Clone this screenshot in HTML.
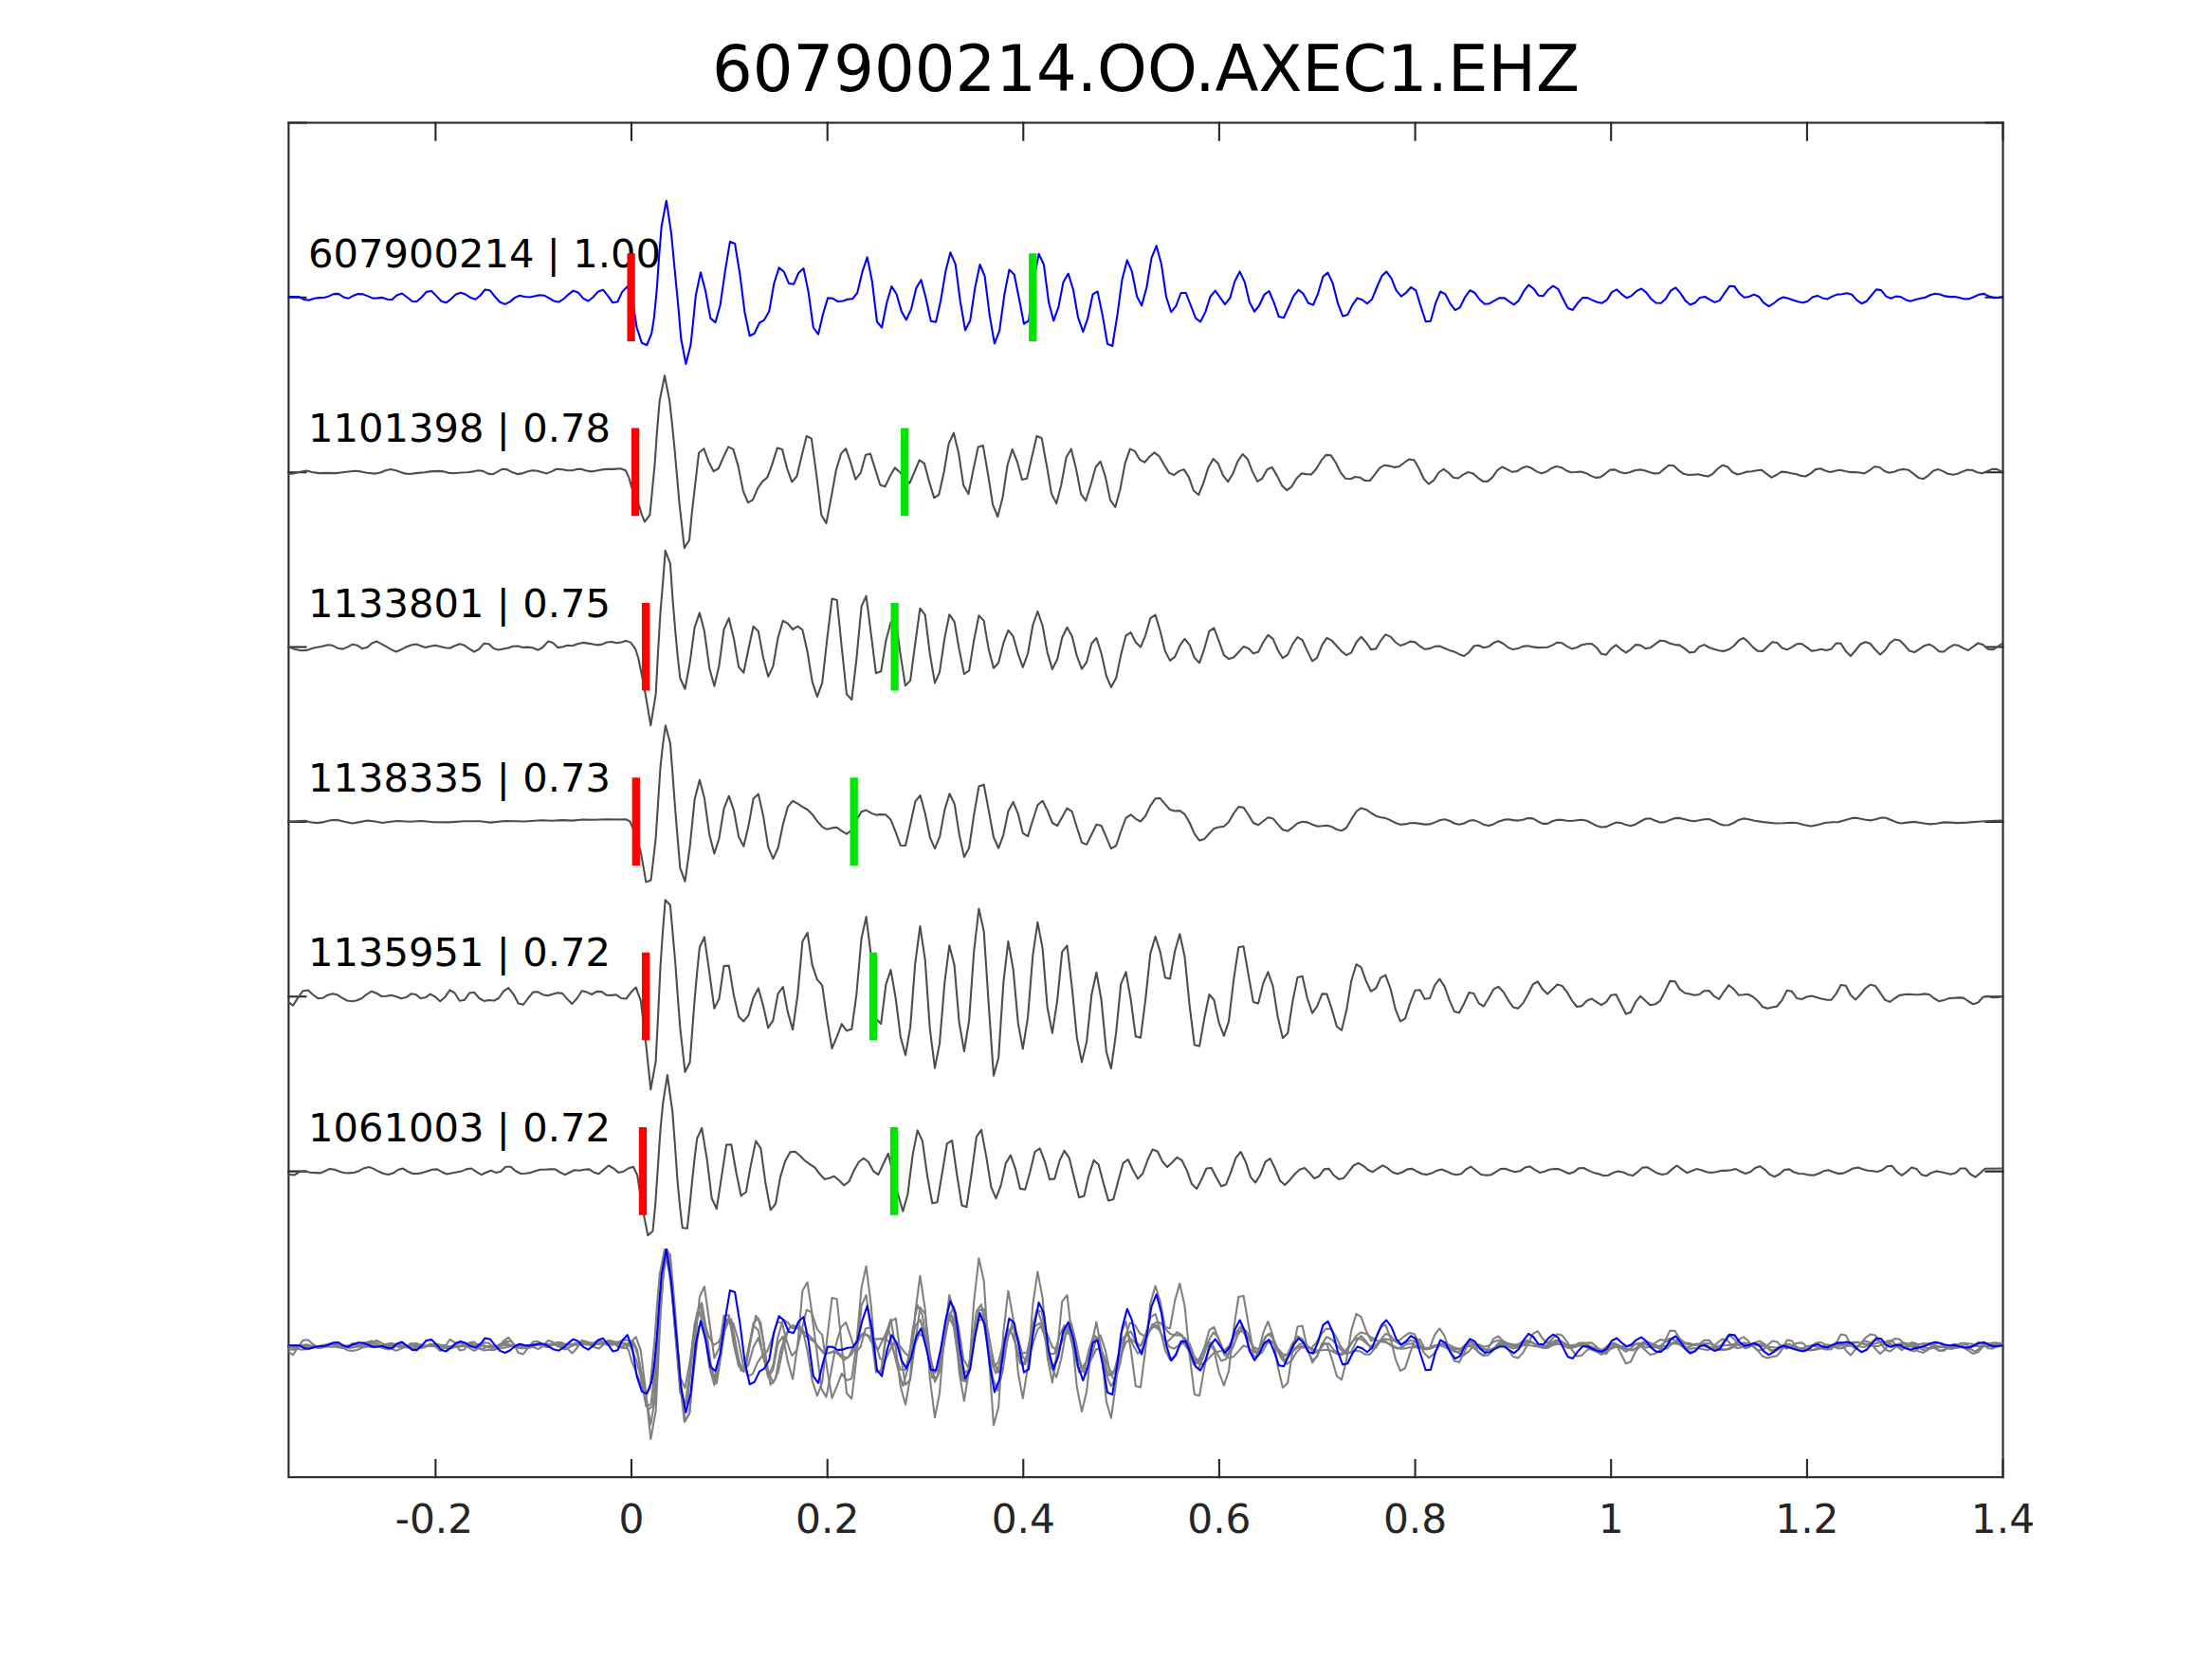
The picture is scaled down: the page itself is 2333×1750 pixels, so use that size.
<!DOCTYPE html><html><head><meta charset="utf-8"><title>607900214.OO.AXEC1.EHZ</title>
<style>html,body{margin:0;padding:0;background:#fff}svg{display:block}text{font-family:"DejaVu Sans","Liberation Sans",sans-serif}</style></head><body>
<svg width="2333" height="1750" viewBox="0 0 2333 1750">
<rect width="2333" height="1750" fill="#fff"/>
<defs><clipPath id="c"><rect x="304.4" y="129.5" width="1808.1" height="1428.7"/></clipPath></defs>
<g stroke="#262626" stroke-width="2.08" fill="none" stroke-linecap="square">
<rect x="304.4" y="129.5" width="1808.1" height="1428.7"/>
<path d="M459.4 1558.2v-18.1M459.4 129.5v18.1"/>
<path d="M666.0 1558.2v-18.1M666.0 129.5v18.1"/>
<path d="M872.7 1558.2v-18.1M872.7 129.5v18.1"/>
<path d="M1079.3 1558.2v-18.1M1079.3 129.5v18.1"/>
<path d="M1285.9 1558.2v-18.1M1285.9 129.5v18.1"/>
<path d="M1492.6 1558.2v-18.1M1492.6 129.5v18.1"/>
<path d="M1699.2 1558.2v-18.1M1699.2 129.5v18.1"/>
<path d="M1905.9 1558.2v-18.1M1905.9 129.5v18.1"/>
<path d="M2112.5 1558.2v-18.1M2112.5 129.5v18.1"/>
<path d="M304.4 129.5h18.1M2112.5 129.5h-18.1"/>
<path d="M304.4 313.8h18.1M2112.5 313.8h-18.1"/>
<path d="M304.4 498.2h18.1M2112.5 498.2h-18.1"/>
<path d="M304.4 682.5h18.1M2112.5 682.5h-18.1"/>
<path d="M304.4 866.9h18.1M2112.5 866.9h-18.1"/>
<path d="M304.4 1051.2h18.1M2112.5 1051.2h-18.1"/>
<path d="M304.4 1235.6h18.1M2112.5 1235.6h-18.1"/>
<path d="M304.4 1419.9h18.1M2112.5 1419.9h-18.1"/>
</g>
<g clip-path="url(#c)" fill="none" stroke-linejoin="round" stroke-width="2.08">
<polyline stroke="#0000ff" points="300.0,313.1 303.6,313.1 315.4,313.1 320.8,316.0 326.2,316.6 331.6,314.8 336.2,314.1 342.5,313.7 347.0,312.4 351.9,310.1 357.0,309.9 362.4,313.5 367.3,314.8 372.3,312.1 377.8,310.1 382.8,310.4 388.1,312.4 393.1,314.6 398.6,314.4 403.4,313.9 408.5,315.7 413.6,316.0 418.4,311.5 423.9,309.5 429.3,313.5 434.7,317.8 439.6,318.0 444.7,313.5 449.7,307.9 455.2,307.0 460.4,312.4 465.5,317.8 470.5,319.3 475.8,315.3 480.8,310.6 485.9,308.8 491.1,310.6 496.2,313.9 501.6,315.7 506.7,311.5 511.6,305.4 517.0,306.6 522.1,313.0 527.3,318.8 532.7,320.9 537.8,318.4 543.2,313.9 548.1,311.7 553.2,313.0 558.6,313.5 563.7,312.4 568.9,311.2 574.0,311.7 579.0,314.4 584.3,317.5 589.3,318.6 594.8,315.1 599.8,310.3 604.7,306.6 610.1,308.8 615.2,314.8 620.4,317.5 625.5,313.5 630.9,307.5 636.0,305.7 641.2,312.1 646.3,319.3 651.4,318.2 656.2,307.9 661.7,302.1 667.1,316.6 671.6,345.5 677.0,361.8 682.2,364.0 687.2,351.8 689.9,334.7 692.7,305.7 695.2,269.6 697.7,238.8 702.8,211.7 708.0,246.1 710.7,275.0 715.6,325.6 718.3,357.3 723.4,383.9 728.5,363.6 731.2,338.3 733.9,311.2 739.0,287.3 744.2,307.5 749.3,335.6 754.5,340.1 759.6,322.0 764.8,285.8 769.9,255.1 775.1,256.9 780.4,289.5 785.4,329.2 790.7,354.2 795.7,351.8 801.0,340.5 806.0,337.6 811.3,328.3 816.3,299.4 821.6,282.2 826.8,286.7 831.9,298.9 837.1,299.8 842.2,288.0 847.5,283.1 852.7,308.4 857.8,345.5 863.0,352.7 868.1,331.0 873.1,314.4 878.4,314.8 883.6,318.0 888.9,317.5 893.9,315.7 899.2,315.1 904.2,309.0 909.5,286.7 914.7,271.4 919.8,296.7 925.0,339.5 930.1,345.5 935.3,319.3 940.4,302.1 945.6,310.3 950.9,328.9 955.9,337.4 961.2,325.6 966.3,303.9 971.5,295.2 976.6,314.8 981.8,338.8 987.1,339.7 992.1,317.5 997.4,285.8 1002.4,266.3 1007.7,278.6 1012.7,317.5 1018.0,348.2 1023.2,338.3 1028.3,303.9 1033.5,279.0 1038.6,291.3 1043.8,332.9 1048.9,362.3 1054.1,349.1 1059.4,310.3 1064.4,284.6 1069.7,289.5 1074.8,314.8 1079.9,341.5 1085.0,338.3 1089.8,298.5 1095.6,267.8 1100.9,279.0 1106.1,318.8 1111.2,338.3 1116.4,323.8 1121.5,297.6 1126.7,288.6 1132.0,305.7 1137.0,334.7 1142.3,350.0 1147.3,335.6 1152.6,310.3 1157.6,307.5 1162.9,332.9 1168.0,362.7 1173.2,365.0 1178.4,332.9 1183.5,294.9 1188.8,274.6 1193.8,286.2 1199.1,312.6 1204.1,322.4 1209.4,303.0 1214.4,272.3 1219.7,259.3 1224.9,278.6 1230.0,313.0 1235.2,329.2 1240.3,322.9 1245.5,309.0 1250.8,309.0 1255.8,322.0 1261.1,335.6 1266.1,339.5 1271.4,328.9 1276.5,313.0 1281.7,306.6 1286.9,313.9 1292.0,321.1 1297.3,314.4 1302.3,296.7 1307.6,286.4 1312.8,297.6 1317.9,318.8 1323.1,328.7 1328.2,322.0 1333.4,310.8 1338.5,307.0 1343.7,319.3 1348.8,334.1 1354.0,335.2 1359.3,323.8 1364.3,312.4 1369.6,305.7 1374.6,309.9 1379.9,319.8 1385.1,321.6 1390.2,309.3 1395.4,291.8 1400.5,287.6 1405.8,299.4 1410.8,319.3 1416.1,333.4 1421.3,332.1 1426.4,321.6 1431.6,314.4 1436.7,316.2 1441.9,320.2 1447.0,315.7 1452.2,303.0 1457.3,291.3 1462.2,286.4 1467.5,293.6 1472.5,306.1 1477.8,312.6 1482.9,308.8 1488.1,303.0 1493.3,306.3 1498.4,322.9 1503.7,339.2 1508.9,338.8 1514.0,320.2 1519.2,307.5 1524.4,310.3 1529.5,320.2 1534.8,327.1 1539.8,324.4 1545.1,313.5 1550.3,306.3 1555.4,308.8 1560.6,316.0 1565.9,320.7 1570.9,320.2 1576.2,317.1 1581.2,314.4 1586.5,314.2 1591.5,317.8 1596.8,321.3 1601.8,317.1 1607.1,307.2 1612.2,300.7 1617.4,304.3 1622.6,311.7 1627.7,312.2 1632.9,305.7 1638.0,301.6 1643.3,304.8 1648.3,314.8 1653.6,325.1 1658.8,326.9 1663.9,319.8 1669.1,314.1 1674.2,314.1 1679.4,316.6 1684.7,318.8 1689.7,319.7 1695.0,316.2 1700.0,308.1 1705.3,305.4 1710.3,310.3 1715.6,314.2 1720.7,312.1 1725.9,307.2 1731.1,304.5 1736.2,308.4 1741.4,315.3 1746.5,319.5 1751.8,319.8 1756.8,315.3 1762.1,306.6 1767.3,303.4 1772.4,309.3 1777.6,317.1 1782.7,321.5 1787.9,319.3 1793.0,313.9 1798.2,313.0 1803.5,316.2 1808.5,318.9 1813.8,316.9 1818.8,309.3 1824.1,301.8 1829.3,302.1 1834.4,309.3 1839.6,313.7 1844.7,313.0 1849.9,310.6 1855.2,313.0 1860.2,319.3 1865.5,323.1 1870.5,320.2 1875.8,315.7 1880.8,313.5 1886.1,314.8 1891.1,316.6 1896.4,318.2 1901.6,319.3 1906.7,317.7 1911.9,313.3 1917.0,311.9 1922.2,314.4 1927.3,315.5 1932.5,312.6 1937.6,310.6 1942.9,310.3 1947.9,309.3 1953.2,310.8 1958.4,316.6 1963.5,320.2 1968.7,317.7 1973.8,311.5 1979.0,305.4 1984.1,306.1 1989.3,312.6 1994.4,314.8 1999.6,312.6 2004.7,313.1 2009.9,316.2 2015.0,317.7 2020.3,316.0 2025.5,314.8 2030.6,313.7 2035.8,311.2 2040.9,309.7 2046.1,310.6 2051.4,312.4 2056.4,313.1 2061.7,313.0 2066.7,314.1 2072.0,315.5 2077.2,315.1 2082.3,313.0 2087.5,310.6 2092.6,309.9 2097.8,312.6 2102.9,314.1 2108.1,313.7 2112.5,313.1"/>
<polyline stroke="#4d4d4d" points="303.6,499.8 308.1,499.8 315.4,498.0 323.5,496.5 328.9,498.0 336.2,499.1 344.3,498.9 354.2,499.1 363.3,498.0 375.0,496.7 380.5,497.4 386.8,498.7 395.8,499.6 401.3,498.5 406.7,496.2 412.1,495.1 417.5,496.2 426.6,499.4 432.0,500.0 441.0,498.9 448.3,498.3 453.7,497.4 462.7,496.9 468.2,497.4 473.6,498.9 479.0,499.2 486.3,498.5 493.5,498.3 498.9,497.4 504.3,496.3 509.4,496.9 514.6,499.6 519.7,500.3 525.1,497.4 530.2,494.7 535.1,495.4 540.5,498.3 545.6,500.1 550.5,499.4 555.9,497.6 561.3,496.3 565.8,496.5 571.2,498.1 576.7,499.4 581.7,497.4 587.0,494.7 592.0,495.1 598.4,496.3 603.8,496.2 608.3,494.9 612.8,494.7 618.3,496.5 623.7,497.4 629.1,496.5 634.5,495.4 640.0,494.9 647.2,494.9 654.4,494.3 659.9,496.2 663.5,504.3 666.2,514.2 674.3,534.1 677.0,543.2 680.0,550.4 685.4,543.2 690.5,490.7 693.0,454.6 695.7,422.9 701.0,396.3 706.2,422.9 708.9,447.3 711.6,474.5 716.5,530.5 721.8,578.1 727.0,569.8 729.7,541.4 737.1,477.7 742.4,473.2 747.6,487.5 752.7,497.2 757.9,494.0 763.2,481.7 768.2,471.4 773.3,473.9 778.6,491.6 783.8,517.9 788.9,530.2 793.9,527.4 799.2,515.1 804.2,507.9 809.5,503.4 814.7,488.9 819.8,472.6 825.0,474.1 830.1,494.0 835.2,508.3 840.4,502.5 845.6,480.8 850.7,460.0 855.9,462.7 861.0,499.8 866.3,543.2 871.5,551.9 876.6,525.1 881.8,496.2 887.1,478.4 892.1,473.2 897.4,488.6 902.4,505.7 907.7,498.9 912.9,479.9 918.0,478.6 923.2,495.3 928.3,511.5 933.5,513.3 938.8,502.1 943.8,493.4 949.1,498.0 954.3,505.2 959.4,509.7 964.4,498.0 969.7,485.3 974.9,488.9 980.0,507.9 985.2,525.1 990.3,521.8 995.6,498.0 1000.6,468.1 1005.9,456.7 1011.1,478.1 1016.2,512.1 1021.4,521.1 1026.5,495.8 1031.7,471.4 1036.8,469.9 1042.0,499.8 1047.1,532.3 1052.3,545.0 1057.6,524.2 1062.6,490.7 1067.7,473.9 1072.9,487.1 1078.0,506.1 1083.1,504.8 1088.4,481.7 1093.5,460.0 1098.7,462.3 1103.9,490.7 1109.0,520.6 1114.2,531.1 1119.3,511.5 1124.6,482.2 1129.8,473.7 1134.9,494.3 1140.1,521.1 1145.2,528.2 1150.4,511.5 1155.7,492.5 1160.7,486.8 1166.0,503.4 1171.0,527.4 1176.3,535.0 1181.5,516.0 1186.6,488.9 1191.8,473.6 1196.9,475.9 1202.1,484.8 1207.2,487.7 1212.4,481.7 1217.5,477.4 1222.7,481.3 1228.0,490.7 1233.1,498.9 1238.3,501.0 1243.4,497.1 1248.6,495.1 1253.9,503.4 1258.9,517.5 1264.2,522.0 1269.2,509.7 1274.5,492.9 1279.7,483.9 1284.8,488.9 1290.0,501.6 1295.1,508.1 1300.3,499.8 1305.4,486.6 1310.6,479.0 1315.9,484.4 1320.9,497.4 1326.2,507.9 1331.2,504.8 1336.5,495.3 1341.6,492.9 1346.8,501.6 1351.9,511.9 1357.1,517.1 1362.4,513.3 1367.4,504.7 1372.7,499.4 1377.7,500.1 1383.0,500.5 1388.2,494.7 1393.3,486.2 1398.5,479.9 1403.6,480.2 1408.8,488.0 1413.9,498.3 1419.1,504.8 1424.4,505.2 1429.4,503.0 1434.7,503.8 1439.7,507.0 1444.9,507.0 1450.1,500.3 1455.4,493.4 1460.4,490.7 1465.7,491.6 1470.7,492.9 1476.0,492.0 1481.0,488.0 1486.3,484.4 1491.5,485.3 1496.6,494.3 1501.8,505.2 1506.9,510.6 1512.2,506.6 1517.4,498.5 1522.5,494.9 1527.7,498.5 1532.8,503.8 1538.0,504.5 1543.3,500.7 1548.3,498.1 1553.6,499.4 1558.6,503.8 1563.9,507.7 1568.9,507.9 1574.2,503.4 1579.2,496.2 1584.5,492.5 1589.7,495.1 1594.8,497.8 1600.0,497.1 1605.1,493.8 1610.3,492.0 1615.4,493.8 1620.7,497.4 1625.7,499.4 1631.0,497.6 1636.2,494.0 1641.3,492.0 1646.5,492.9 1651.6,496.2 1656.8,498.3 1662.1,498.0 1667.1,497.6 1672.4,498.9 1677.4,501.6 1682.7,503.9 1687.9,503.4 1693.0,499.8 1698.2,495.6 1703.3,495.4 1708.5,498.0 1713.6,499.2 1718.8,498.3 1724.1,496.3 1729.2,495.4 1734.4,496.2 1739.5,498.0 1744.7,499.4 1749.8,499.2 1755.0,494.9 1760.1,490.7 1765.3,491.3 1770.6,496.2 1775.6,499.8 1780.9,501.0 1785.9,500.7 1791.2,500.3 1796.2,501.6 1801.5,502.5 1806.5,499.8 1811.8,494.3 1816.9,490.7 1822.1,492.5 1827.2,498.0 1832.4,500.5 1837.6,499.2 1842.7,497.6 1847.7,497.2 1853.0,496.3 1858.0,495.8 1863.3,499.8 1868.4,503.6 1873.6,501.0 1878.8,497.6 1883.9,498.1 1889.2,499.2 1894.2,500.1 1899.5,501.9 1904.5,502.5 1909.8,499.4 1914.8,495.1 1920.1,494.2 1925.1,496.5 1930.4,498.0 1935.6,496.7 1940.7,495.8 1945.9,497.1 1951.0,498.1 1956.2,498.0 1961.3,498.5 1966.5,499.4 1971.8,496.2 1976.9,492.2 1982.1,492.7 1987.3,496.7 1992.4,498.7 1997.6,497.8 2002.7,495.8 2008.0,494.9 2013.0,495.8 2018.3,499.8 2023.5,503.9 2028.6,505.2 2033.8,501.6 2038.9,496.7 2044.1,494.9 2049.4,497.1 2054.4,499.8 2059.7,500.7 2064.7,499.8 2070.0,497.4 2075.0,495.6 2080.3,496.0 2085.5,498.3 2090.6,499.2 2095.8,497.1 2101.1,494.9 2106.1,494.9 2112.5,498.1"/>
<polyline stroke="#4d4d4d" points="303.6,682.1 310.8,684.8 317.2,686.2 323.5,685.9 330.7,683.5 338.9,681.9 346.1,680.3 350.6,680.8 356.1,683.7 361.5,684.6 366.9,682.4 371.8,679.7 376.9,680.8 381.9,684.1 387.2,683.0 392.2,678.4 397.3,676.6 402.5,679.3 407.6,682.1 412.7,685.1 417.7,687.5 423.0,685.3 428.4,682.4 433.5,680.6 438.7,679.5 443.8,681.2 448.8,683.0 453.7,681.7 459.1,680.8 464.2,681.9 469.4,683.3 474.5,683.7 479.6,681.2 484.8,679.2 489.9,680.8 494.9,684.4 500.2,687.5 505.2,684.8 510.3,678.8 515.6,679.3 520.6,683.9 525.7,685.5 530.9,684.4 536.0,683.5 541.0,681.7 546.3,681.5 551.4,683.0 556.4,682.6 561.7,683.3 567.6,685.7 572.2,683.0 578.1,676.6 583.0,678.1 588.4,683.1 593.9,682.2 598.4,680.8 603.8,681.2 609.2,679.3 614.6,677.9 620.1,678.6 625.5,679.5 630.0,680.4 634.5,679.9 640.0,677.5 645.0,677.0 650.3,678.3 655.3,677.4 660.2,675.9 665.3,677.9 670.3,684.8 673.4,694.7 678.3,719.1 681.0,733.6 686.3,765.2 691.6,732.7 694.1,686.6 696.6,645.0 699.2,614.2 701.7,580.8 706.9,594.4 709.5,632.3 712.2,664.9 714.7,692.0 717.3,715.2 722.5,726.7 727.6,699.2 732.6,662.2 737.9,646.4 742.9,665.8 748.2,704.7 753.4,723.7 758.5,702.0 763.5,664.0 768.8,652.2 774.0,673.9 779.1,703.4 784.3,709.7 789.4,684.8 794.6,660.7 799.9,666.1 805.0,693.8 810.2,713.7 815.4,702.9 820.5,673.0 825.8,654.8 830.8,657.6 836.1,664.0 841.3,660.7 846.4,664.3 851.6,687.5 856.7,719.1 861.9,734.9 867.2,720.4 872.2,675.7 877.5,631.6 882.7,632.9 887.8,683.0 893.0,732.3 898.3,738.1 903.3,695.6 908.6,639.6 913.6,628.7 918.9,670.3 923.9,710.1 929.2,708.3 934.4,675.7 939.5,656.7 944.7,653.1 949.8,691.1 954.9,723.3 960.1,717.9 965.2,679.3 970.4,641.7 975.7,648.6 980.7,689.3 986.0,720.4 991.0,709.2 996.3,673.0 1001.3,648.2 1006.6,655.8 1011.6,684.8 1016.9,711.0 1022.1,707.4 1027.2,675.7 1032.4,649.3 1037.7,654.9 1042.7,684.8 1048.0,704.7 1053.1,699.2 1058.3,678.4 1063.4,664.9 1068.6,671.2 1073.9,690.2 1078.8,703.8 1084.1,689.3 1089.3,659.5 1094.4,645.0 1099.6,660.0 1104.7,688.4 1109.9,705.9 1115.2,695.3 1120.2,672.7 1125.5,661.8 1130.7,671.2 1135.8,692.0 1141.0,705.6 1146.1,698.3 1151.3,678.8 1156.4,673.0 1161.6,689.3 1166.9,713.2 1171.9,724.9 1177.2,715.2 1182.2,691.1 1187.5,670.3 1192.7,667.1 1197.8,677.5 1203.0,682.6 1208.1,670.3 1213.3,652.2 1218.6,648.6 1223.7,665.8 1228.9,686.9 1234.0,696.9 1239.2,692.9 1244.3,681.2 1249.5,673.9 1254.8,680.3 1259.8,693.8 1265.1,699.2 1270.1,684.8 1275.4,665.8 1280.4,662.4 1285.7,676.6 1290.9,691.1 1296.0,695.1 1301.2,693.5 1306.3,688.0 1311.5,682.1 1316.8,683.9 1321.8,689.3 1327.1,687.7 1332.3,677.5 1337.4,669.9 1342.6,673.9 1347.7,685.7 1352.9,694.2 1358.2,690.7 1363.3,679.3 1368.5,672.1 1373.6,675.2 1378.8,686.6 1384.1,697.4 1389.1,693.8 1394.4,680.3 1399.4,672.8 1404.7,675.7 1409.9,681.5 1415.0,687.1 1420.2,691.1 1425.3,688.4 1430.5,677.5 1435.6,671.8 1440.8,677.5 1446.0,685.1 1451.2,684.4 1456.3,675.7 1461.3,669.4 1466.6,671.6 1471.8,677.5 1476.9,681.0 1482.1,679.3 1487.2,676.6 1492.4,677.4 1497.7,681.7 1502.7,684.8 1508.0,684.1 1513.2,681.9 1518.3,681.5 1523.5,683.7 1528.6,685.9 1533.9,687.5 1539.1,690.2 1544.2,692.0 1549.4,688.0 1554.5,681.5 1559.7,680.8 1564.8,683.3 1570.0,682.1 1575.3,678.1 1580.3,676.3 1585.6,679.0 1590.6,683.0 1595.9,685.1 1601.1,684.1 1606.2,681.9 1611.4,681.3 1616.7,682.4 1621.7,683.1 1627.0,683.0 1632.2,682.8 1637.3,680.6 1642.5,677.7 1647.6,678.3 1652.8,681.9 1657.9,684.4 1663.1,683.0 1668.4,680.3 1673.5,679.2 1678.7,679.0 1683.8,683.0 1689.0,689.8 1694.1,690.7 1699.3,684.1 1704.4,680.4 1709.6,684.8 1714.9,688.4 1719.9,685.1 1725.2,680.1 1730.2,680.6 1735.5,684.1 1740.5,683.3 1745.8,679.3 1751.0,675.7 1756.1,676.3 1761.3,678.8 1766.6,680.1 1771.6,680.6 1776.9,684.1 1782.0,688.4 1787.2,687.8 1792.3,682.1 1797.5,680.1 1802.6,683.0 1807.8,684.8 1813.1,686.2 1818.1,686.9 1823.4,685.1 1828.6,681.5 1833.7,675.7 1838.9,673.0 1843.4,676.6 1848.5,682.4 1853.7,686.6 1859.0,686.9 1864.0,682.2 1869.3,677.2 1874.3,678.1 1879.6,683.5 1884.8,685.3 1889.9,682.6 1895.1,679.3 1900.2,679.0 1905.4,682.6 1910.7,686.6 1915.7,686.0 1921.0,684.8 1926.0,686.0 1931.3,684.8 1936.5,678.6 1941.6,678.8 1946.8,687.1 1951.9,692.0 1957.1,686.0 1962.2,679.5 1967.5,677.2 1972.7,679.0 1977.8,685.3 1983.0,690.6 1988.1,686.0 1993.3,678.4 1998.6,674.5 2003.6,675.4 2008.9,680.8 2013.9,686.6 2019.2,688.0 2024.2,684.8 2029.5,681.2 2034.7,679.7 2039.8,682.4 2045.0,687.1 2050.1,687.5 2055.3,683.3 2060.4,680.3 2065.6,680.8 2070.9,683.9 2075.9,686.0 2081.2,682.2 2086.3,678.4 2091.5,680.1 2096.6,684.8 2101.8,685.3 2107.1,682.1 2112.5,678.4"/>
<polyline stroke="#4d4d4d" points="303.6,866.7 312.7,866.2 321.7,865.8 327.1,867.2 334.4,868.1 341.6,867.1 348.8,865.3 356.1,864.9 363.3,866.7 371.4,868.5 379.6,867.1 387.7,865.6 395.8,866.5 403.1,868.0 412.1,866.7 419.3,866.0 432.0,866.7 444.7,866.0 457.3,867.2 473.6,867.4 489.9,866.2 506.1,866.2 517.0,867.6 533.3,866.0 553.2,866.5 571.2,865.3 582.1,865.8 592.9,865.1 603.8,865.6 614.6,864.5 625.5,864.7 640.0,864.3 652.6,864.5 660.4,864.3 664.4,866.5 670.7,880.6 675.8,898.7 681.4,930.4 686.5,928.5 689.0,907.7 691.6,884.2 694.1,846.3 696.6,808.3 699.2,784.8 701.9,765.3 706.9,783.9 709.5,817.3 712.0,851.7 714.7,884.2 717.3,915.3 722.5,929.8 727.6,893.3 732.6,843.6 737.9,822.8 742.9,841.7 748.2,880.3 753.4,900.5 758.5,884.2 763.5,853.1 768.8,839.6 774.0,854.8 779.1,882.8 784.3,892.7 789.4,871.6 794.6,842.6 799.9,837.6 805.0,860.7 810.2,893.3 815.4,905.9 820.7,894.2 825.8,869.8 831.0,850.8 836.1,844.8 841.3,847.7 846.4,851.1 851.6,854.0 856.7,858.9 861.9,866.2 867.2,872.1 872.2,874.8 877.5,873.4 882.7,872.8 887.8,876.6 893.0,879.7 898.3,875.6 903.3,865.3 908.6,856.2 913.6,854.6 918.9,857.7 923.9,859.6 929.2,859.1 934.4,859.5 939.5,864.7 944.7,877.9 949.8,891.8 955.0,892.0 960.1,869.8 965.4,845.4 970.6,839.0 975.7,858.0 980.9,883.3 986.0,895.1 991.2,882.4 996.3,854.4 1001.5,837.2 1006.8,848.4 1011.8,880.6 1016.9,904.1 1022.1,894.5 1027.2,859.8 1032.4,829.6 1037.7,827.8 1042.7,854.4 1048.0,883.3 1053.2,894.7 1058.3,880.6 1063.4,855.8 1068.6,845.9 1073.9,858.9 1078.8,878.8 1084.1,882.1 1089.3,865.3 1094.4,849.3 1099.6,844.8 1104.7,854.9 1109.9,868.0 1115.2,871.0 1120.2,862.0 1125.5,852.6 1130.7,856.2 1135.8,872.8 1141.0,888.8 1146.1,890.9 1151.3,880.3 1156.4,869.8 1161.6,871.0 1166.9,883.3 1171.9,895.1 1177.2,892.0 1182.2,877.0 1187.5,862.9 1192.7,859.3 1197.8,863.8 1203.0,866.5 1208.1,860.7 1213.3,849.9 1218.6,842.3 1223.7,842.1 1228.9,848.4 1234.0,854.0 1239.2,855.5 1244.3,855.1 1249.5,858.9 1254.8,868.0 1259.8,879.7 1265.1,886.6 1270.1,885.1 1275.4,879.2 1280.4,874.1 1285.7,872.5 1290.9,871.8 1296.0,867.1 1301.2,858.0 1306.3,851.1 1311.5,851.7 1316.8,859.5 1321.8,868.0 1327.1,870.3 1332.3,866.2 1337.4,862.2 1342.6,863.4 1347.7,869.4 1352.9,875.2 1358.2,876.6 1363.3,872.8 1368.5,868.5 1373.6,866.7 1378.8,867.4 1384.1,869.8 1389.1,871.6 1394.4,871.2 1399.4,870.7 1404.7,872.1 1409.9,875.0 1415.0,876.3 1420.2,873.0 1425.3,864.3 1430.5,856.0 1435.6,852.4 1440.8,853.9 1446.0,857.5 1451.2,860.7 1456.3,862.2 1461.5,863.1 1466.6,865.3 1471.8,868.0 1476.9,869.8 1482.1,869.4 1487.2,868.3 1492.4,868.1 1497.7,868.9 1502.7,869.6 1508.0,869.4 1513.2,867.6 1518.3,865.3 1523.5,864.3 1528.6,865.8 1533.9,868.5 1539.1,869.8 1544.2,868.5 1549.4,865.8 1554.5,865.1 1559.7,867.1 1564.8,869.8 1570.0,871.0 1575.3,869.4 1580.3,866.7 1585.6,864.9 1590.6,864.3 1595.9,865.1 1601.1,865.6 1606.2,864.7 1611.4,863.1 1616.7,863.4 1621.7,866.2 1627.0,868.9 1632.2,868.9 1637.3,866.3 1642.5,864.7 1647.6,864.9 1652.8,865.8 1657.9,866.0 1663.1,865.3 1668.4,864.7 1673.5,865.8 1678.7,868.3 1683.8,871.0 1689.0,872.5 1694.1,872.1 1699.3,869.8 1704.4,867.6 1709.6,868.0 1714.9,870.1 1719.9,871.2 1725.2,869.4 1730.2,866.5 1735.5,863.8 1740.5,863.4 1745.8,865.8 1751.0,867.6 1756.1,867.1 1761.3,864.9 1766.6,863.1 1771.6,862.9 1776.9,864.3 1782.0,865.6 1787.2,866.2 1792.3,865.3 1797.5,864.2 1802.6,864.0 1807.8,866.2 1813.1,868.9 1818.1,870.5 1823.4,870.3 1828.6,868.0 1833.7,864.9 1838.9,863.4 1844.3,864.3 1850.6,865.8 1859.7,867.1 1872.3,868.5 1881.4,868.3 1890.4,867.8 1895.8,868.3 1903.1,870.3 1910.3,871.6 1917.5,870.1 1924.8,868.0 1932.0,867.2 1939.2,867.1 1946.5,864.9 1953.7,862.9 1959.1,862.9 1966.4,864.5 1972.7,865.4 1979.0,864.0 1984.4,862.5 1989.0,862.7 1995.3,865.3 2000.7,867.6 2005.2,868.5 2011.6,867.6 2018.8,866.9 2026.0,868.0 2035.1,869.4 2042.3,868.7 2050.5,867.4 2056.8,867.6 2064.0,868.1 2074.9,867.6 2089.3,866.5 2103.8,865.8 2112.5,865.6"/>
<polyline stroke="#4d4d4d" points="303.6,1056.6 309.0,1060.6 314.5,1052.1 319.5,1045.2 324.8,1044.5 329.8,1049.0 335.3,1053.1 340.3,1052.8 345.6,1049.7 350.6,1048.3 355.7,1049.3 360.9,1052.6 366.2,1055.5 371.4,1056.2 376.5,1055.3 381.7,1053.0 386.8,1048.8 392.0,1045.7 397.1,1047.7 402.4,1051.0 407.6,1050.8 412.7,1049.7 417.9,1051.2 423.0,1053.3 428.4,1052.1 433.5,1048.3 438.5,1049.0 443.8,1053.1 448.8,1052.2 453.9,1048.6 459.1,1051.5 464.2,1056.2 469.4,1051.7 474.5,1044.3 479.6,1047.5 484.8,1055.7 489.9,1054.8 495.1,1047.5 500.2,1046.8 505.4,1053.0 510.7,1055.9 515.7,1055.0 521.0,1055.5 526.0,1053.0 531.1,1045.7 536.3,1042.1 541.6,1048.8 546.7,1058.4 551.9,1059.8 557.0,1053.0 562.2,1046.6 567.3,1046.3 572.5,1049.2 577.6,1050.3 582.8,1048.8 588.1,1047.2 593.1,1047.9 598.4,1053.9 603.4,1058.9 608.7,1053.0 613.7,1045.2 619.0,1046.6 624.2,1049.0 629.3,1045.9 634.5,1046.1 639.6,1049.7 644.8,1049.9 649.9,1049.3 655.2,1053.0 660.4,1053.5 665.5,1046.8 670.7,1041.6 675.8,1055.7 681.0,1098.2 686.3,1149.3 691.6,1119.9 694.1,1071.0 696.6,1018.6 699.2,980.6 701.7,949.3 706.9,954.8 709.5,984.2 712.2,1015.0 714.7,1049.3 717.3,1083.7 722.5,1130.7 727.6,1120.8 730.1,1087.3 732.6,1054.8 735.2,1025.8 737.9,999.3 742.9,988.4 748.2,1025.8 753.4,1063.8 758.5,1053.5 763.5,1019.0 768.8,1018.6 774.0,1050.3 779.1,1072.3 784.3,1077.4 789.4,1071.0 794.6,1052.4 799.9,1042.5 805.0,1061.1 810.2,1084.2 815.4,1076.1 820.5,1048.4 825.8,1041.0 830.8,1067.4 836.1,1086.1 841.3,1049.3 846.4,992.9 851.6,983.9 856.7,1018.1 861.9,1033.4 867.2,1039.4 872.2,1074.7 877.5,1105.9 882.7,1093.7 887.8,1080.1 893.0,1087.3 898.3,1085.5 903.3,1049.3 908.6,989.7 913.6,967.1 918.9,1009.6 923.9,1074.7 929.2,1080.1 934.4,1038.5 939.5,1023.1 944.7,1053.0 949.8,1093.7 955.0,1113.0 960.1,1083.7 965.2,1016.8 970.4,977.0 975.7,1012.3 980.7,1084.6 986.0,1126.6 991.0,1100.9 996.3,1036.7 1001.3,997.3 1006.6,1018.1 1011.6,1078.3 1016.9,1109.0 1022.1,1076.5 1027.2,1004.1 1032.4,958.6 1037.7,982.4 1042.7,1058.4 1048.0,1134.7 1053.2,1115.4 1058.3,1036.7 1063.4,993.1 1068.6,1022.2 1073.9,1080.1 1078.8,1106.3 1084.1,1072.9 1089.3,1007.8 1094.4,972.9 1099.6,1000.5 1104.7,1062.9 1109.9,1089.7 1115.2,1054.8 1120.2,1004.1 1125.5,997.5 1130.7,1042.1 1135.8,1094.6 1141.0,1120.2 1146.1,1099.1 1151.3,1049.3 1156.4,1025.8 1161.6,1054.8 1166.9,1109.6 1171.9,1127.1 1177.2,1089.1 1182.2,1038.1 1187.5,1025.3 1192.7,1054.8 1197.8,1093.3 1203.0,1094.7 1208.1,1054.8 1213.3,1005.9 1218.6,987.9 1223.7,1004.1 1228.9,1031.3 1234.0,1032.5 1239.2,1003.2 1244.3,985.2 1249.5,1009.0 1254.8,1062.0 1259.8,1102.2 1265.1,1103.6 1270.1,1074.7 1275.4,1049.0 1280.4,1054.8 1285.7,1079.2 1290.9,1092.7 1296.0,1077.4 1301.2,1033.1 1306.3,999.3 1311.5,998.2 1316.8,1028.6 1321.8,1056.9 1327.1,1058.4 1332.3,1037.2 1337.4,1025.3 1342.6,1040.3 1347.7,1072.9 1352.9,1095.1 1358.2,1090.0 1363.3,1056.6 1368.5,1030.9 1373.6,1029.8 1378.8,1053.0 1384.1,1068.7 1389.1,1061.6 1394.4,1048.4 1399.4,1048.6 1404.7,1064.7 1409.9,1082.8 1415.0,1086.8 1420.2,1065.6 1425.3,1034.5 1430.5,1017.2 1435.6,1020.4 1440.8,1034.9 1446.0,1045.7 1451.2,1042.5 1456.3,1031.3 1461.3,1028.6 1466.6,1043.0 1471.8,1064.7 1476.9,1077.4 1482.1,1074.3 1487.2,1058.4 1492.4,1044.8 1497.7,1044.3 1502.7,1053.7 1508.0,1053.0 1513.2,1039.4 1518.3,1032.7 1523.5,1040.3 1528.6,1054.8 1533.9,1066.9 1539.1,1068.3 1544.2,1058.4 1549.4,1047.0 1554.5,1048.1 1559.7,1058.4 1564.8,1061.5 1570.0,1053.0 1575.3,1043.4 1580.3,1040.8 1585.6,1046.3 1590.6,1054.8 1595.9,1062.4 1601.1,1063.8 1606.2,1058.4 1611.4,1049.3 1616.7,1038.5 1621.7,1035.4 1627.0,1043.4 1632.2,1048.4 1637.3,1043.4 1642.5,1038.5 1647.6,1039.9 1652.8,1046.6 1657.9,1055.3 1663.1,1062.0 1668.4,1061.1 1673.5,1055.7 1678.7,1053.5 1683.8,1056.9 1689.0,1060.2 1694.1,1056.9 1699.3,1049.7 1704.4,1049.0 1709.6,1059.3 1714.9,1069.6 1719.9,1067.8 1725.2,1056.6 1730.2,1050.8 1735.5,1055.7 1740.5,1060.2 1745.8,1059.3 1751.0,1055.7 1756.1,1045.7 1761.3,1034.9 1766.6,1035.2 1771.6,1043.4 1776.9,1047.5 1782.0,1048.4 1787.2,1049.7 1792.3,1049.0 1797.5,1045.2 1802.6,1045.0 1807.8,1050.8 1813.1,1053.9 1818.1,1046.3 1823.4,1039.2 1828.6,1043.4 1833.7,1049.7 1838.9,1049.3 1843.4,1048.8 1848.5,1051.2 1853.7,1055.7 1859.0,1062.0 1864.0,1063.8 1869.3,1062.5 1874.3,1061.5 1879.6,1054.8 1884.8,1044.8 1889.9,1045.7 1895.1,1053.0 1900.2,1054.1 1905.4,1051.5 1910.7,1050.6 1915.7,1051.9 1921.0,1053.5 1926.0,1054.6 1931.3,1054.8 1936.5,1048.4 1941.6,1038.9 1946.8,1039.8 1951.9,1049.7 1957.1,1054.4 1962.2,1049.0 1967.5,1042.5 1972.7,1038.7 1977.8,1039.9 1983.0,1047.2 1988.1,1054.8 1993.3,1056.9 1998.6,1053.0 2003.6,1049.9 2008.9,1049.0 2013.9,1048.8 2019.2,1049.3 2024.2,1049.3 2029.5,1048.4 2034.7,1049.0 2039.8,1053.0 2045.0,1056.2 2050.1,1055.1 2055.3,1053.1 2060.4,1052.8 2065.6,1052.4 2070.9,1052.6 2075.9,1056.0 2081.2,1059.3 2086.3,1057.5 2091.5,1051.7 2096.6,1050.8 2101.8,1052.2 2107.1,1051.9 2112.5,1050.8"/>
<polyline stroke="#4d4d4d" points="303.6,1238.9 310.8,1239.4 316.3,1235.8 321.7,1235.6 327.1,1236.7 332.5,1237.1 338.0,1237.4 342.9,1235.3 347.9,1232.9 353.0,1233.8 357.9,1235.8 363.3,1237.2 368.7,1237.4 374.1,1236.7 379.0,1234.9 384.1,1232.2 389.2,1230.9 394.0,1232.9 399.5,1235.8 404.5,1238.0 409.6,1239.1 414.6,1237.6 419.7,1234.0 424.8,1232.5 430.2,1235.8 435.3,1238.0 440.3,1238.0 445.6,1237.1 450.6,1235.6 455.7,1233.8 460.9,1233.4 466.0,1236.2 471.2,1238.5 476.3,1237.6 481.4,1236.5 486.6,1235.6 491.7,1233.4 497.1,1232.5 502.5,1236.2 507.6,1239.2 512.8,1236.7 517.9,1234.7 523.3,1237.1 528.2,1235.8 533.3,1230.7 538.7,1230.7 543.8,1235.3 549.2,1238.0 554.1,1237.8 559.5,1237.1 564.6,1235.3 569.8,1233.8 574.9,1233.8 580.3,1233.4 585.4,1233.4 590.6,1236.5 595.7,1239.2 600.7,1236.7 606.0,1234.3 611.0,1234.7 616.1,1233.8 621.3,1233.4 626.4,1236.7 631.5,1238.3 636.7,1233.8 641.8,1229.5 647.2,1232.5 652.3,1236.9 657.5,1235.8 662.6,1232.5 668.0,1230.7 672.2,1239.8 674.7,1256.0 677.6,1274.1 683.3,1303.1 688.5,1298.5 691.2,1270.5 693.9,1230.7 696.6,1190.9 699.2,1163.8 703.9,1134.0 709.3,1172.9 712.0,1209.0 714.5,1245.2 717.1,1272.3 719.8,1295.3 724.8,1295.8 727.4,1272.3 730.1,1245.2 732.6,1221.7 735.2,1200.9 740.2,1190.0 745.5,1221.7 750.7,1264.2 755.8,1275.0 761.0,1241.6 766.1,1207.6 771.3,1207.2 776.4,1236.2 781.6,1261.5 786.9,1257.3 791.9,1228.9 797.2,1203.6 802.4,1211.4 807.5,1248.8 812.7,1276.3 818.0,1270.0 823.0,1241.6 828.3,1224.4 833.3,1215.4 838.6,1214.8 843.7,1219.0 848.9,1224.4 854.0,1228.0 859.2,1231.3 864.3,1238.0 869.5,1243.9 874.8,1242.8 879.8,1240.7 885.1,1245.2 890.1,1250.3 895.4,1246.5 900.4,1235.3 905.7,1225.8 910.9,1221.7 916.0,1225.8 921.2,1235.3 926.3,1239.1 931.5,1228.0 936.8,1216.8 941.8,1238.0 947.1,1259.7 952.3,1277.7 957.4,1259.7 962.6,1218.1 967.7,1192.4 972.9,1203.6 978.2,1241.6 983.3,1269.2 988.5,1268.3 993.6,1238.0 998.8,1206.3 1004.1,1203.2 1009.1,1238.0 1014.4,1271.4 1019.4,1273.2 1024.7,1238.0 1029.9,1199.1 1035.0,1191.9 1040.2,1219.9 1045.3,1251.9 1050.5,1264.2 1055.6,1250.6 1060.8,1227.1 1065.9,1218.6 1071.1,1233.4 1075.9,1253.9 1081.2,1254.8 1086.4,1236.2 1091.5,1215.0 1096.7,1211.4 1102.0,1225.3 1107.0,1244.1 1112.3,1243.4 1117.5,1224.4 1122.6,1213.9 1127.8,1221.7 1132.9,1242.5 1138.1,1263.3 1143.4,1261.5 1148.4,1239.8 1153.7,1223.9 1158.7,1228.6 1164.0,1248.8 1169.0,1266.4 1174.3,1265.1 1179.5,1245.2 1184.6,1226.8 1189.8,1223.0 1194.9,1234.3 1200.1,1243.4 1205.2,1238.0 1210.5,1223.5 1215.5,1212.6 1220.8,1214.5 1226.0,1225.3 1231.1,1231.1 1236.3,1226.2 1241.4,1220.8 1246.6,1224.0 1251.9,1234.9 1256.9,1248.8 1262.2,1253.9 1267.2,1244.3 1272.5,1232.5 1277.7,1232.0 1282.8,1241.9 1288.0,1251.2 1293.1,1249.4 1298.3,1236.2 1303.4,1221.3 1308.6,1215.0 1313.9,1225.8 1319.0,1241.6 1324.2,1247.5 1329.4,1238.9 1334.5,1225.7 1339.7,1222.1 1344.8,1232.5 1350.1,1245.6 1355.1,1250.1 1360.4,1244.7 1365.6,1238.5 1370.7,1233.8 1375.9,1232.0 1381.0,1237.1 1386.2,1243.0 1391.3,1240.7 1396.5,1233.4 1401.6,1232.9 1406.8,1239.8 1412.1,1243.9 1417.1,1242.8 1422.4,1236.2 1427.5,1229.5 1432.7,1226.9 1437.9,1229.8 1443.1,1234.3 1447.8,1236.2 1453.2,1232.5 1458.4,1229.3 1463.5,1232.2 1468.8,1236.5 1473.8,1238.3 1479.1,1236.5 1484.3,1233.4 1489.4,1232.9 1494.6,1235.8 1499.7,1238.3 1504.9,1239.1 1510.2,1237.6 1515.2,1234.9 1520.5,1233.6 1525.5,1235.4 1530.8,1238.0 1536.0,1239.2 1541.1,1238.3 1546.3,1233.4 1551.4,1230.7 1556.6,1234.7 1561.7,1238.7 1566.9,1239.8 1572.2,1239.4 1577.3,1236.5 1582.5,1233.1 1587.6,1232.7 1592.8,1234.7 1598.0,1236.3 1603.1,1235.3 1608.4,1231.6 1613.4,1230.4 1618.7,1233.8 1623.9,1236.9 1629.0,1235.8 1634.2,1233.8 1639.3,1232.9 1644.5,1233.4 1649.8,1235.8 1654.8,1238.0 1660.1,1236.2 1665.1,1232.4 1670.4,1232.0 1675.6,1234.9 1680.7,1236.9 1685.9,1238.3 1691.0,1240.1 1696.2,1239.8 1701.5,1237.1 1706.5,1235.6 1711.8,1236.5 1717.0,1238.9 1722.1,1240.1 1727.3,1236.2 1732.4,1231.6 1737.6,1231.3 1742.9,1234.7 1748.0,1237.6 1753.2,1238.9 1758.3,1238.0 1763.5,1233.4 1768.6,1229.5 1773.8,1233.4 1779.1,1237.2 1784.1,1235.3 1789.4,1233.1 1794.4,1234.3 1799.7,1236.2 1804.9,1237.1 1810.0,1236.2 1815.2,1234.9 1820.3,1234.9 1825.5,1234.3 1830.8,1233.1 1835.8,1235.8 1840.9,1238.0 1846.1,1236.2 1851.2,1232.0 1856.1,1230.2 1861.5,1233.8 1866.5,1238.9 1871.6,1241.2 1876.9,1238.5 1881.9,1234.0 1887.2,1233.4 1892.2,1236.5 1897.5,1238.0 1902.5,1238.3 1907.8,1239.4 1913.0,1239.8 1918.1,1238.0 1923.3,1235.3 1928.4,1234.3 1933.6,1236.2 1938.9,1238.1 1943.9,1237.6 1949.2,1235.3 1954.2,1232.5 1959.5,1231.6 1964.6,1233.3 1969.8,1234.7 1974.9,1235.3 1980.1,1236.0 1985.2,1234.3 1990.4,1230.2 1995.5,1229.8 2000.7,1236.2 2005.8,1239.8 2011.0,1236.2 2016.1,1231.6 2021.3,1232.9 2026.4,1238.9 2031.6,1240.5 2036.9,1237.2 2042.0,1235.4 2047.2,1236.2 2052.3,1237.4 2057.5,1238.7 2062.6,1237.2 2067.8,1232.5 2073.1,1232.5 2078.1,1238.5 2083.4,1241.6 2088.4,1237.6 2093.7,1232.7 2112.5,1232.5"/>
<polyline stroke="#808080" points="303.6,1421.5 308.1,1421.5 315.4,1419.7 323.5,1418.2 328.9,1419.7 336.2,1420.8 344.3,1420.6 354.2,1420.8 363.3,1419.7 375.0,1418.4 380.5,1419.1 386.8,1420.4 395.8,1421.3 401.3,1420.2 406.7,1417.9 412.1,1416.8 417.5,1417.9 426.6,1421.1 432.0,1421.7 441.0,1420.6 448.3,1420.0 453.7,1419.1 462.7,1418.6 468.2,1419.1 473.6,1420.6 479.0,1420.9 486.3,1420.2 493.5,1420.0 498.9,1419.1 504.3,1418.0 509.4,1418.6 514.6,1421.3 519.7,1422.0 525.1,1419.1 530.2,1416.4 535.1,1417.1 540.5,1420.0 545.6,1421.8 550.5,1421.1 555.9,1419.3 561.3,1418.0 565.8,1418.2 571.2,1419.8 576.7,1421.1 581.7,1419.1 587.0,1416.4 592.0,1416.8 598.4,1418.0 603.8,1417.9 608.3,1416.6 612.8,1416.4 618.3,1418.2 623.7,1419.1 629.1,1418.2 634.5,1417.1 640.0,1416.6 647.2,1416.6 654.4,1416.0 659.9,1417.9 663.5,1426.0 666.2,1435.9 674.3,1455.8 677.0,1464.9 680.0,1472.1 685.4,1464.9 690.5,1412.4 693.0,1376.3 695.7,1344.6 701.0,1318.0 706.2,1344.6 708.9,1369.0 711.6,1396.2 716.5,1452.2 721.8,1499.8 727.0,1491.5 729.7,1463.1 737.1,1399.4 742.4,1394.9 747.6,1409.2 752.7,1418.9 757.9,1415.7 763.2,1403.4 768.2,1393.1 773.3,1395.6 778.6,1413.3 783.8,1439.6 788.9,1451.9 793.9,1449.1 799.2,1436.8 804.2,1429.6 809.5,1425.1 814.7,1410.6 819.8,1394.3 825.0,1395.8 830.1,1415.7 835.2,1430.0 840.4,1424.2 845.6,1402.5 850.7,1381.7 855.9,1384.4 861.0,1421.5 866.3,1464.9 871.5,1473.6 876.6,1446.8 881.8,1417.9 887.1,1400.1 892.1,1394.9 897.4,1410.3 902.4,1427.4 907.7,1420.6 912.9,1401.6 918.0,1400.3 923.2,1417.0 928.3,1433.2 933.5,1435.0 938.8,1423.8 943.8,1415.1 949.1,1419.7 954.3,1426.9 959.4,1431.4 964.4,1419.7 969.7,1407.0 974.9,1410.6 980.0,1429.6 985.2,1446.8 990.3,1443.5 995.6,1419.7 1000.6,1389.8 1005.9,1378.4 1011.1,1399.8 1016.2,1433.8 1021.4,1442.8 1026.5,1417.5 1031.7,1393.1 1036.8,1391.6 1042.0,1421.5 1047.1,1454.0 1052.3,1466.7 1057.6,1445.9 1062.6,1412.4 1067.7,1395.6 1072.9,1408.8 1078.0,1427.8 1083.1,1426.5 1088.4,1403.4 1093.5,1381.7 1098.7,1384.0 1103.9,1412.4 1109.0,1442.3 1114.2,1452.8 1119.3,1433.2 1124.6,1403.9 1129.8,1395.4 1134.9,1416.0 1140.1,1442.8 1145.2,1449.9 1150.4,1433.2 1155.7,1414.2 1160.7,1408.5 1166.0,1425.1 1171.0,1449.1 1176.3,1456.7 1181.5,1437.7 1186.6,1410.6 1191.8,1395.3 1196.9,1397.6 1202.1,1406.5 1207.2,1409.4 1212.4,1403.4 1217.5,1399.1 1222.7,1403.0 1228.0,1412.4 1233.1,1420.6 1238.3,1422.7 1243.4,1418.8 1248.6,1416.8 1253.9,1425.1 1258.9,1439.2 1264.2,1443.7 1269.2,1431.4 1274.5,1414.6 1279.7,1405.6 1284.8,1410.6 1290.0,1423.3 1295.1,1429.8 1300.3,1421.5 1305.4,1408.3 1310.6,1400.7 1315.9,1406.1 1320.9,1419.1 1326.2,1429.6 1331.2,1426.5 1336.5,1417.0 1341.6,1414.6 1346.8,1423.3 1351.9,1433.6 1357.1,1438.8 1362.4,1435.0 1367.4,1426.4 1372.7,1421.1 1377.7,1421.8 1383.0,1422.2 1388.2,1416.4 1393.3,1407.9 1398.5,1401.6 1403.6,1401.9 1408.8,1409.7 1413.9,1420.0 1419.1,1426.5 1424.4,1426.9 1429.4,1424.7 1434.7,1425.5 1439.7,1428.7 1444.9,1428.7 1450.1,1422.0 1455.4,1415.1 1460.4,1412.4 1465.7,1413.3 1470.7,1414.6 1476.0,1413.7 1481.0,1409.7 1486.3,1406.1 1491.5,1407.0 1496.6,1416.0 1501.8,1426.9 1506.9,1432.3 1512.2,1428.3 1517.4,1420.2 1522.5,1416.6 1527.7,1420.2 1532.8,1425.5 1538.0,1426.2 1543.3,1422.4 1548.3,1419.8 1553.6,1421.1 1558.6,1425.5 1563.9,1429.4 1568.9,1429.6 1574.2,1425.1 1579.2,1417.9 1584.5,1414.2 1589.7,1416.8 1594.8,1419.5 1600.0,1418.8 1605.1,1415.5 1610.3,1413.7 1615.4,1415.5 1620.7,1419.1 1625.7,1421.1 1631.0,1419.3 1636.2,1415.7 1641.3,1413.7 1646.5,1414.6 1651.6,1417.9 1656.8,1420.0 1662.1,1419.7 1667.1,1419.3 1672.4,1420.6 1677.4,1423.3 1682.7,1425.6 1687.9,1425.1 1693.0,1421.5 1698.2,1417.3 1703.3,1417.1 1708.5,1419.7 1713.6,1420.9 1718.8,1420.0 1724.1,1418.0 1729.2,1417.1 1734.4,1417.9 1739.5,1419.7 1744.7,1421.1 1749.8,1420.9 1755.0,1416.6 1760.1,1412.4 1765.3,1413.0 1770.6,1417.9 1775.6,1421.5 1780.9,1422.7 1785.9,1422.4 1791.2,1422.0 1796.2,1423.3 1801.5,1424.2 1806.5,1421.5 1811.8,1416.0 1816.9,1412.4 1822.1,1414.2 1827.2,1419.7 1832.4,1422.2 1837.6,1420.9 1842.7,1419.3 1847.7,1418.9 1853.0,1418.0 1858.0,1417.5 1863.3,1421.5 1868.4,1425.3 1873.6,1422.7 1878.8,1419.3 1883.9,1419.8 1889.2,1420.9 1894.2,1421.8 1899.5,1423.6 1904.5,1424.2 1909.8,1421.1 1914.8,1416.8 1920.1,1415.9 1925.1,1418.2 1930.4,1419.7 1935.6,1418.4 1940.7,1417.5 1945.9,1418.8 1951.0,1419.8 1956.2,1419.7 1961.3,1420.2 1966.5,1421.1 1971.8,1417.9 1976.9,1413.9 1982.1,1414.4 1987.3,1418.4 1992.4,1420.4 1997.6,1419.5 2002.7,1417.5 2008.0,1416.6 2013.0,1417.5 2018.3,1421.5 2023.5,1425.6 2028.6,1426.9 2033.8,1423.3 2038.9,1418.4 2044.1,1416.6 2049.4,1418.8 2054.4,1421.5 2059.7,1422.4 2064.7,1421.5 2070.0,1419.1 2075.0,1417.3 2080.3,1417.7 2085.5,1420.0 2090.6,1420.9 2095.8,1418.8 2101.1,1416.6 2106.1,1416.6 2112.5,1419.8"/>
<polyline stroke="#808080" points="303.6,1419.5 310.8,1422.2 317.2,1423.6 323.5,1423.3 330.7,1420.9 338.9,1419.3 346.1,1417.7 350.6,1418.2 356.1,1421.1 361.5,1422.0 366.9,1419.8 371.8,1417.1 376.9,1418.2 381.9,1421.5 387.2,1420.4 392.2,1415.8 397.3,1414.0 402.5,1416.7 407.6,1419.5 412.7,1422.5 417.7,1424.9 423.0,1422.7 428.4,1419.8 433.5,1418.0 438.7,1416.9 443.8,1418.6 448.8,1420.4 453.7,1419.1 459.1,1418.2 464.2,1419.3 469.4,1420.7 474.5,1421.1 479.6,1418.6 484.8,1416.6 489.9,1418.2 494.9,1421.8 500.2,1424.9 505.2,1422.2 510.3,1416.2 515.6,1416.7 520.6,1421.3 525.7,1422.9 530.9,1421.8 536.0,1420.9 541.0,1419.1 546.3,1418.9 551.4,1420.4 556.4,1420.0 561.7,1420.7 567.6,1423.1 572.2,1420.4 578.1,1414.0 583.0,1415.5 588.4,1420.5 593.9,1419.6 598.4,1418.2 603.8,1418.6 609.2,1416.7 614.6,1415.3 620.1,1416.0 625.5,1416.9 630.0,1417.8 634.5,1417.3 640.0,1414.9 645.0,1414.4 650.3,1415.7 655.3,1414.8 660.2,1413.3 665.3,1415.3 670.3,1422.2 673.4,1432.1 678.3,1456.5 681.0,1471.0 686.3,1502.6 691.6,1470.1 694.1,1424.0 696.6,1382.4 699.2,1351.6 701.7,1318.2 706.9,1331.8 709.5,1369.7 712.2,1402.3 714.7,1429.4 717.3,1452.6 722.5,1464.1 727.6,1436.6 732.6,1399.6 737.9,1383.8 742.9,1403.2 748.2,1442.1 753.4,1461.1 758.5,1439.4 763.5,1401.4 768.8,1389.6 774.0,1411.3 779.1,1440.8 784.3,1447.1 789.4,1422.2 794.6,1398.1 799.9,1403.5 805.0,1431.2 810.2,1451.1 815.4,1440.3 820.5,1410.4 825.8,1392.2 830.8,1395.0 836.1,1401.4 841.3,1398.1 846.4,1401.7 851.6,1424.9 856.7,1456.5 861.9,1472.3 867.2,1457.8 872.2,1413.1 877.5,1369.0 882.7,1370.3 887.8,1420.4 893.0,1469.7 898.3,1475.5 903.3,1433.0 908.6,1377.0 913.6,1366.1 918.9,1407.7 923.9,1447.5 929.2,1445.7 934.4,1413.1 939.5,1394.1 944.7,1390.5 949.8,1428.5 954.9,1460.7 960.1,1455.3 965.2,1416.7 970.4,1379.1 975.7,1386.0 980.7,1426.7 986.0,1457.8 991.0,1446.6 996.3,1410.4 1001.3,1385.6 1006.6,1393.2 1011.6,1422.2 1016.9,1448.4 1022.1,1444.8 1027.2,1413.1 1032.4,1386.7 1037.7,1392.3 1042.7,1422.2 1048.0,1442.1 1053.1,1436.6 1058.3,1415.8 1063.4,1402.3 1068.6,1408.6 1073.9,1427.6 1078.8,1441.2 1084.1,1426.7 1089.3,1396.9 1094.4,1382.4 1099.6,1397.4 1104.7,1425.8 1109.9,1443.3 1115.2,1432.7 1120.2,1410.1 1125.5,1399.2 1130.7,1408.6 1135.8,1429.4 1141.0,1443.0 1146.1,1435.7 1151.3,1416.2 1156.4,1410.4 1161.6,1426.7 1166.9,1450.6 1171.9,1462.3 1177.2,1452.6 1182.2,1428.5 1187.5,1407.7 1192.7,1404.5 1197.8,1414.9 1203.0,1420.0 1208.1,1407.7 1213.3,1389.6 1218.6,1386.0 1223.7,1403.2 1228.9,1424.3 1234.0,1434.3 1239.2,1430.3 1244.3,1418.6 1249.5,1411.3 1254.8,1417.7 1259.8,1431.2 1265.1,1436.6 1270.1,1422.2 1275.4,1403.2 1280.4,1399.8 1285.7,1414.0 1290.9,1428.5 1296.0,1432.5 1301.2,1430.9 1306.3,1425.4 1311.5,1419.5 1316.8,1421.3 1321.8,1426.7 1327.1,1425.1 1332.3,1414.9 1337.4,1407.3 1342.6,1411.3 1347.7,1423.1 1352.9,1431.6 1358.2,1428.1 1363.3,1416.7 1368.5,1409.5 1373.6,1412.6 1378.8,1424.0 1384.1,1434.8 1389.1,1431.2 1394.4,1417.7 1399.4,1410.2 1404.7,1413.1 1409.9,1418.9 1415.0,1424.5 1420.2,1428.5 1425.3,1425.8 1430.5,1414.9 1435.6,1409.2 1440.8,1414.9 1446.0,1422.5 1451.2,1421.8 1456.3,1413.1 1461.3,1406.8 1466.6,1409.0 1471.8,1414.9 1476.9,1418.4 1482.1,1416.7 1487.2,1414.0 1492.4,1414.8 1497.7,1419.1 1502.7,1422.2 1508.0,1421.5 1513.2,1419.3 1518.3,1418.9 1523.5,1421.1 1528.6,1423.3 1533.9,1424.9 1539.1,1427.6 1544.2,1429.4 1549.4,1425.4 1554.5,1418.9 1559.7,1418.2 1564.8,1420.7 1570.0,1419.5 1575.3,1415.5 1580.3,1413.7 1585.6,1416.4 1590.6,1420.4 1595.9,1422.5 1601.1,1421.5 1606.2,1419.3 1611.4,1418.7 1616.7,1419.8 1621.7,1420.5 1627.0,1420.4 1632.2,1420.2 1637.3,1418.0 1642.5,1415.1 1647.6,1415.7 1652.8,1419.3 1657.9,1421.8 1663.1,1420.4 1668.4,1417.7 1673.5,1416.6 1678.7,1416.4 1683.8,1420.4 1689.0,1427.2 1694.1,1428.1 1699.3,1421.5 1704.4,1417.8 1709.6,1422.2 1714.9,1425.8 1719.9,1422.5 1725.2,1417.5 1730.2,1418.0 1735.5,1421.5 1740.5,1420.7 1745.8,1416.7 1751.0,1413.1 1756.1,1413.7 1761.3,1416.2 1766.6,1417.5 1771.6,1418.0 1776.9,1421.5 1782.0,1425.8 1787.2,1425.2 1792.3,1419.5 1797.5,1417.5 1802.6,1420.4 1807.8,1422.2 1813.1,1423.6 1818.1,1424.3 1823.4,1422.5 1828.6,1418.9 1833.7,1413.1 1838.9,1410.4 1843.4,1414.0 1848.5,1419.8 1853.7,1424.0 1859.0,1424.3 1864.0,1419.6 1869.3,1414.6 1874.3,1415.5 1879.6,1420.9 1884.8,1422.7 1889.9,1420.0 1895.1,1416.7 1900.2,1416.4 1905.4,1420.0 1910.7,1424.0 1915.7,1423.4 1921.0,1422.2 1926.0,1423.4 1931.3,1422.2 1936.5,1416.0 1941.6,1416.2 1946.8,1424.5 1951.9,1429.4 1957.1,1423.4 1962.2,1416.9 1967.5,1414.6 1972.7,1416.4 1977.8,1422.7 1983.0,1428.0 1988.1,1423.4 1993.3,1415.8 1998.6,1411.9 2003.6,1412.8 2008.9,1418.2 2013.9,1424.0 2019.2,1425.4 2024.2,1422.2 2029.5,1418.6 2034.7,1417.1 2039.8,1419.8 2045.0,1424.5 2050.1,1424.9 2055.3,1420.7 2060.4,1417.7 2065.6,1418.2 2070.9,1421.3 2075.9,1423.4 2081.2,1419.6 2086.3,1415.8 2091.5,1417.5 2096.6,1422.2 2101.8,1422.7 2107.1,1419.5 2112.5,1415.8"/>
<polyline stroke="#808080" points="303.6,1419.7 312.7,1419.2 321.7,1418.8 327.1,1420.2 334.4,1421.1 341.6,1420.1 348.8,1418.3 356.1,1417.9 363.3,1419.7 371.4,1421.5 379.6,1420.1 387.7,1418.6 395.8,1419.5 403.1,1421.0 412.1,1419.7 419.3,1419.0 432.0,1419.7 444.7,1419.0 457.3,1420.2 473.6,1420.4 489.9,1419.2 506.1,1419.2 517.0,1420.6 533.3,1419.0 553.2,1419.5 571.2,1418.3 582.1,1418.8 592.9,1418.1 603.8,1418.6 614.6,1417.5 625.5,1417.7 640.0,1417.3 652.6,1417.5 660.4,1417.3 664.4,1419.5 670.7,1433.6 675.8,1451.7 681.4,1483.4 686.5,1481.5 689.0,1460.7 691.6,1437.2 694.1,1399.3 696.6,1361.3 699.2,1337.8 701.9,1318.3 706.9,1336.9 709.5,1370.3 712.0,1404.7 714.7,1437.2 717.3,1468.3 722.5,1482.8 727.6,1446.3 732.6,1396.6 737.9,1375.8 742.9,1394.7 748.2,1433.3 753.4,1453.5 758.5,1437.2 763.5,1406.1 768.8,1392.6 774.0,1407.8 779.1,1435.8 784.3,1445.7 789.4,1424.6 794.6,1395.6 799.9,1390.6 805.0,1413.7 810.2,1446.3 815.4,1458.9 820.7,1447.2 825.8,1422.8 831.0,1403.8 836.1,1397.8 841.3,1400.7 846.4,1404.1 851.6,1407.0 856.7,1411.9 861.9,1419.2 867.2,1425.1 872.2,1427.8 877.5,1426.4 882.7,1425.8 887.8,1429.6 893.0,1432.7 898.3,1428.6 903.3,1418.3 908.6,1409.2 913.6,1407.6 918.9,1410.7 923.9,1412.6 929.2,1412.1 934.4,1412.5 939.5,1417.7 944.7,1430.9 949.8,1444.8 955.0,1445.0 960.1,1422.8 965.4,1398.4 970.6,1392.0 975.7,1411.0 980.9,1436.3 986.0,1448.1 991.2,1435.4 996.3,1407.4 1001.5,1390.2 1006.8,1401.4 1011.8,1433.6 1016.9,1457.1 1022.1,1447.5 1027.2,1412.8 1032.4,1382.6 1037.7,1380.8 1042.7,1407.4 1048.0,1436.3 1053.2,1447.7 1058.3,1433.6 1063.4,1408.8 1068.6,1398.9 1073.9,1411.9 1078.8,1431.8 1084.1,1435.1 1089.3,1418.3 1094.4,1402.3 1099.6,1397.8 1104.7,1407.9 1109.9,1421.0 1115.2,1424.0 1120.2,1415.0 1125.5,1405.6 1130.7,1409.2 1135.8,1425.8 1141.0,1441.8 1146.1,1443.9 1151.3,1433.3 1156.4,1422.8 1161.6,1424.0 1166.9,1436.3 1171.9,1448.1 1177.2,1445.0 1182.2,1430.0 1187.5,1415.9 1192.7,1412.3 1197.8,1416.8 1203.0,1419.5 1208.1,1413.7 1213.3,1402.9 1218.6,1395.3 1223.7,1395.1 1228.9,1401.4 1234.0,1407.0 1239.2,1408.5 1244.3,1408.1 1249.5,1411.9 1254.8,1421.0 1259.8,1432.7 1265.1,1439.6 1270.1,1438.1 1275.4,1432.2 1280.4,1427.1 1285.7,1425.5 1290.9,1424.8 1296.0,1420.1 1301.2,1411.0 1306.3,1404.1 1311.5,1404.7 1316.8,1412.5 1321.8,1421.0 1327.1,1423.3 1332.3,1419.2 1337.4,1415.2 1342.6,1416.4 1347.7,1422.4 1352.9,1428.2 1358.2,1429.6 1363.3,1425.8 1368.5,1421.5 1373.6,1419.7 1378.8,1420.4 1384.1,1422.8 1389.1,1424.6 1394.4,1424.2 1399.4,1423.7 1404.7,1425.1 1409.9,1428.0 1415.0,1429.3 1420.2,1426.0 1425.3,1417.3 1430.5,1409.0 1435.6,1405.4 1440.8,1406.9 1446.0,1410.5 1451.2,1413.7 1456.3,1415.2 1461.5,1416.1 1466.6,1418.3 1471.8,1421.0 1476.9,1422.8 1482.1,1422.4 1487.2,1421.3 1492.4,1421.1 1497.7,1421.9 1502.7,1422.6 1508.0,1422.4 1513.2,1420.6 1518.3,1418.3 1523.5,1417.3 1528.6,1418.8 1533.9,1421.5 1539.1,1422.8 1544.2,1421.5 1549.4,1418.8 1554.5,1418.1 1559.7,1420.1 1564.8,1422.8 1570.0,1424.0 1575.3,1422.4 1580.3,1419.7 1585.6,1417.9 1590.6,1417.3 1595.9,1418.1 1601.1,1418.6 1606.2,1417.7 1611.4,1416.1 1616.7,1416.4 1621.7,1419.2 1627.0,1421.9 1632.2,1421.9 1637.3,1419.3 1642.5,1417.7 1647.6,1417.9 1652.8,1418.8 1657.9,1419.0 1663.1,1418.3 1668.4,1417.7 1673.5,1418.8 1678.7,1421.3 1683.8,1424.0 1689.0,1425.5 1694.1,1425.1 1699.3,1422.8 1704.4,1420.6 1709.6,1421.0 1714.9,1423.1 1719.9,1424.2 1725.2,1422.4 1730.2,1419.5 1735.5,1416.8 1740.5,1416.4 1745.8,1418.8 1751.0,1420.6 1756.1,1420.1 1761.3,1417.9 1766.6,1416.1 1771.6,1415.9 1776.9,1417.3 1782.0,1418.6 1787.2,1419.2 1792.3,1418.3 1797.5,1417.2 1802.6,1417.0 1807.8,1419.2 1813.1,1421.9 1818.1,1423.5 1823.4,1423.3 1828.6,1421.0 1833.7,1417.9 1838.9,1416.4 1844.3,1417.3 1850.6,1418.8 1859.7,1420.1 1872.3,1421.5 1881.4,1421.3 1890.4,1420.8 1895.8,1421.3 1903.1,1423.3 1910.3,1424.6 1917.5,1423.1 1924.8,1421.0 1932.0,1420.2 1939.2,1420.1 1946.5,1417.9 1953.7,1415.9 1959.1,1415.9 1966.4,1417.5 1972.7,1418.4 1979.0,1417.0 1984.4,1415.5 1989.0,1415.7 1995.3,1418.3 2000.7,1420.6 2005.2,1421.5 2011.6,1420.6 2018.8,1419.9 2026.0,1421.0 2035.1,1422.4 2042.3,1421.7 2050.5,1420.4 2056.8,1420.6 2064.0,1421.1 2074.9,1420.6 2089.3,1419.5 2103.8,1418.8 2112.5,1418.6"/>
<polyline stroke="#808080" points="303.6,1425.3 309.0,1429.3 314.5,1420.8 319.5,1413.9 324.8,1413.2 329.8,1417.7 335.3,1421.8 340.3,1421.5 345.6,1418.4 350.6,1417.0 355.7,1418.0 360.9,1421.3 366.2,1424.2 371.4,1424.9 376.5,1424.0 381.7,1421.7 386.8,1417.5 392.0,1414.4 397.1,1416.4 402.4,1419.7 407.6,1419.5 412.7,1418.4 417.9,1419.9 423.0,1422.0 428.4,1420.8 433.5,1417.0 438.5,1417.7 443.8,1421.8 448.8,1420.9 453.9,1417.3 459.1,1420.2 464.2,1424.9 469.4,1420.4 474.5,1413.0 479.6,1416.2 484.8,1424.4 489.9,1423.5 495.1,1416.2 500.2,1415.5 505.4,1421.7 510.7,1424.6 515.7,1423.7 521.0,1424.2 526.0,1421.7 531.1,1414.4 536.3,1410.8 541.6,1417.5 546.7,1427.1 551.9,1428.5 557.0,1421.7 562.2,1415.3 567.3,1415.0 572.5,1417.9 577.6,1419.0 582.8,1417.5 588.1,1415.9 593.1,1416.6 598.4,1422.6 603.4,1427.6 608.7,1421.7 613.7,1413.9 619.0,1415.3 624.2,1417.7 629.3,1414.6 634.5,1414.8 639.6,1418.4 644.8,1418.6 649.9,1418.0 655.2,1421.7 660.4,1422.2 665.5,1415.5 670.7,1410.3 675.8,1424.4 681.0,1466.9 686.3,1518.0 691.6,1488.6 694.1,1439.7 696.6,1387.3 699.2,1349.3 701.7,1318.0 706.9,1323.5 709.5,1352.9 712.2,1383.7 714.7,1418.0 717.3,1452.4 722.5,1499.4 727.6,1489.5 730.1,1456.0 732.6,1423.5 735.2,1394.5 737.9,1368.0 742.9,1357.1 748.2,1394.5 753.4,1432.5 758.5,1422.2 763.5,1387.7 768.8,1387.3 774.0,1419.0 779.1,1441.0 784.3,1446.1 789.4,1439.7 794.6,1421.1 799.9,1411.2 805.0,1429.8 810.2,1452.9 815.4,1444.8 820.5,1417.1 825.8,1409.7 830.8,1436.1 836.1,1454.8 841.3,1418.0 846.4,1361.6 851.6,1352.6 856.7,1386.8 861.9,1402.1 867.2,1408.1 872.2,1443.4 877.5,1474.6 882.7,1462.4 887.8,1448.8 893.0,1456.0 898.3,1454.2 903.3,1418.0 908.6,1358.4 913.6,1335.8 918.9,1378.3 923.9,1443.4 929.2,1448.8 934.4,1407.2 939.5,1391.8 944.7,1421.7 949.8,1462.4 955.0,1481.7 960.1,1452.4 965.2,1385.5 970.4,1345.7 975.7,1381.0 980.7,1453.3 986.0,1495.3 991.0,1469.6 996.3,1405.4 1001.3,1366.0 1006.6,1386.8 1011.6,1447.0 1016.9,1477.7 1022.1,1445.2 1027.2,1372.8 1032.4,1327.3 1037.7,1351.1 1042.7,1427.1 1048.0,1503.4 1053.2,1484.1 1058.3,1405.4 1063.4,1361.8 1068.6,1390.9 1073.9,1448.8 1078.8,1475.0 1084.1,1441.6 1089.3,1376.5 1094.4,1341.6 1099.6,1369.2 1104.7,1431.6 1109.9,1458.4 1115.2,1423.5 1120.2,1372.8 1125.5,1366.2 1130.7,1410.8 1135.8,1463.3 1141.0,1488.9 1146.1,1467.8 1151.3,1418.0 1156.4,1394.5 1161.6,1423.5 1166.9,1478.3 1171.9,1495.8 1177.2,1457.8 1182.2,1406.8 1187.5,1394.0 1192.7,1423.5 1197.8,1462.0 1203.0,1463.4 1208.1,1423.5 1213.3,1374.6 1218.6,1356.6 1223.7,1372.8 1228.9,1400.0 1234.0,1401.2 1239.2,1371.9 1244.3,1353.9 1249.5,1377.7 1254.8,1430.7 1259.8,1470.9 1265.1,1472.3 1270.1,1443.4 1275.4,1417.7 1280.4,1423.5 1285.7,1447.9 1290.9,1461.4 1296.0,1446.1 1301.2,1401.8 1306.3,1368.0 1311.5,1366.9 1316.8,1397.3 1321.8,1425.6 1327.1,1427.1 1332.3,1405.9 1337.4,1394.0 1342.6,1409.0 1347.7,1441.6 1352.9,1463.8 1358.2,1458.7 1363.3,1425.3 1368.5,1399.6 1373.6,1398.5 1378.8,1421.7 1384.1,1437.4 1389.1,1430.3 1394.4,1417.1 1399.4,1417.3 1404.7,1433.4 1409.9,1451.5 1415.0,1455.5 1420.2,1434.3 1425.3,1403.2 1430.5,1385.9 1435.6,1389.1 1440.8,1403.6 1446.0,1414.4 1451.2,1411.2 1456.3,1400.0 1461.3,1397.3 1466.6,1411.7 1471.8,1433.4 1476.9,1446.1 1482.1,1443.0 1487.2,1427.1 1492.4,1413.5 1497.7,1413.0 1502.7,1422.4 1508.0,1421.7 1513.2,1408.1 1518.3,1401.4 1523.5,1409.0 1528.6,1423.5 1533.9,1435.6 1539.1,1437.0 1544.2,1427.1 1549.4,1415.7 1554.5,1416.8 1559.7,1427.1 1564.8,1430.2 1570.0,1421.7 1575.3,1412.1 1580.3,1409.5 1585.6,1415.0 1590.6,1423.5 1595.9,1431.1 1601.1,1432.5 1606.2,1427.1 1611.4,1418.0 1616.7,1407.2 1621.7,1404.1 1627.0,1412.1 1632.2,1417.1 1637.3,1412.1 1642.5,1407.2 1647.6,1408.6 1652.8,1415.3 1657.9,1424.0 1663.1,1430.7 1668.4,1429.8 1673.5,1424.4 1678.7,1422.2 1683.8,1425.6 1689.0,1428.9 1694.1,1425.6 1699.3,1418.4 1704.4,1417.7 1709.6,1428.0 1714.9,1438.3 1719.9,1436.5 1725.2,1425.3 1730.2,1419.5 1735.5,1424.4 1740.5,1428.9 1745.8,1428.0 1751.0,1424.4 1756.1,1414.4 1761.3,1403.6 1766.6,1403.9 1771.6,1412.1 1776.9,1416.2 1782.0,1417.1 1787.2,1418.4 1792.3,1417.7 1797.5,1413.9 1802.6,1413.7 1807.8,1419.5 1813.1,1422.6 1818.1,1415.0 1823.4,1407.9 1828.6,1412.1 1833.7,1418.4 1838.9,1418.0 1843.4,1417.5 1848.5,1419.9 1853.7,1424.4 1859.0,1430.7 1864.0,1432.5 1869.3,1431.2 1874.3,1430.2 1879.6,1423.5 1884.8,1413.5 1889.9,1414.4 1895.1,1421.7 1900.2,1422.8 1905.4,1420.2 1910.7,1419.3 1915.7,1420.6 1921.0,1422.2 1926.0,1423.3 1931.3,1423.5 1936.5,1417.1 1941.6,1407.6 1946.8,1408.5 1951.9,1418.4 1957.1,1423.1 1962.2,1417.7 1967.5,1411.2 1972.7,1407.4 1977.8,1408.6 1983.0,1415.9 1988.1,1423.5 1993.3,1425.6 1998.6,1421.7 2003.6,1418.6 2008.9,1417.7 2013.9,1417.5 2019.2,1418.0 2024.2,1418.0 2029.5,1417.1 2034.7,1417.7 2039.8,1421.7 2045.0,1424.9 2050.1,1423.8 2055.3,1421.8 2060.4,1421.5 2065.6,1421.1 2070.9,1421.3 2075.9,1424.7 2081.2,1428.0 2086.3,1426.2 2091.5,1420.4 2096.6,1419.5 2101.8,1420.9 2107.1,1420.6 2112.5,1419.5"/>
<polyline stroke="#808080" points="303.6,1423.2 310.8,1423.7 316.3,1420.1 321.7,1419.9 327.1,1421.0 332.5,1421.4 338.0,1421.7 342.9,1419.6 347.9,1417.2 353.0,1418.1 357.9,1420.1 363.3,1421.5 368.7,1421.7 374.1,1421.0 379.0,1419.2 384.1,1416.5 389.2,1415.2 394.0,1417.2 399.5,1420.1 404.5,1422.3 409.6,1423.4 414.6,1421.9 419.7,1418.3 424.8,1416.8 430.2,1420.1 435.3,1422.3 440.3,1422.3 445.6,1421.4 450.6,1419.9 455.7,1418.1 460.9,1417.7 466.0,1420.5 471.2,1422.8 476.3,1421.9 481.4,1420.8 486.6,1419.9 491.7,1417.7 497.1,1416.8 502.5,1420.5 507.6,1423.5 512.8,1421.0 517.9,1419.0 523.3,1421.4 528.2,1420.1 533.3,1415.0 538.7,1415.0 543.8,1419.6 549.2,1422.3 554.1,1422.1 559.5,1421.4 564.6,1419.6 569.8,1418.1 574.9,1418.1 580.3,1417.7 585.4,1417.7 590.6,1420.8 595.7,1423.5 600.7,1421.0 606.0,1418.6 611.0,1419.0 616.1,1418.1 621.3,1417.7 626.4,1421.0 631.5,1422.6 636.7,1418.1 641.8,1413.8 647.2,1416.8 652.3,1421.2 657.5,1420.1 662.6,1416.8 668.0,1415.0 672.2,1424.1 674.7,1440.3 677.6,1458.4 683.3,1487.4 688.5,1482.8 691.2,1454.8 693.9,1415.0 696.6,1375.2 699.2,1348.1 703.9,1318.3 709.3,1357.2 712.0,1393.3 714.5,1429.5 717.1,1456.6 719.8,1479.6 724.8,1480.1 727.4,1456.6 730.1,1429.5 732.6,1406.0 735.2,1385.2 740.2,1374.3 745.5,1406.0 750.7,1448.5 755.8,1459.3 761.0,1425.9 766.1,1391.9 771.3,1391.5 776.4,1420.5 781.6,1445.8 786.9,1441.6 791.9,1413.2 797.2,1387.9 802.4,1395.7 807.5,1433.1 812.7,1460.6 818.0,1454.3 823.0,1425.9 828.3,1408.7 833.3,1399.7 838.6,1399.1 843.7,1403.3 848.9,1408.7 854.0,1412.3 859.2,1415.6 864.3,1422.3 869.5,1428.2 874.8,1427.1 879.8,1425.0 885.1,1429.5 890.1,1434.6 895.4,1430.8 900.4,1419.6 905.7,1410.1 910.9,1406.0 916.0,1410.1 921.2,1419.6 926.3,1423.4 931.5,1412.3 936.8,1401.1 941.8,1422.3 947.1,1444.0 952.3,1462.0 957.4,1444.0 962.6,1402.4 967.7,1376.7 972.9,1387.9 978.2,1425.9 983.3,1453.5 988.5,1452.6 993.6,1422.3 998.8,1390.6 1004.1,1387.5 1009.1,1422.3 1014.4,1455.7 1019.4,1457.5 1024.7,1422.3 1029.9,1383.4 1035.0,1376.2 1040.2,1404.2 1045.3,1436.2 1050.5,1448.5 1055.6,1434.9 1060.8,1411.4 1065.9,1402.9 1071.1,1417.7 1075.9,1438.2 1081.2,1439.1 1086.4,1420.5 1091.5,1399.3 1096.7,1395.7 1102.0,1409.6 1107.0,1428.4 1112.3,1427.7 1117.5,1408.7 1122.6,1398.2 1127.8,1406.0 1132.9,1426.8 1138.1,1447.6 1143.4,1445.8 1148.4,1424.1 1153.7,1408.2 1158.7,1412.9 1164.0,1433.1 1169.0,1450.7 1174.3,1449.4 1179.5,1429.5 1184.6,1411.1 1189.8,1407.3 1194.9,1418.6 1200.1,1427.7 1205.2,1422.3 1210.5,1407.8 1215.5,1396.9 1220.8,1398.8 1226.0,1409.6 1231.1,1415.4 1236.3,1410.5 1241.4,1405.1 1246.6,1408.3 1251.9,1419.2 1256.9,1433.1 1262.2,1438.2 1267.2,1428.6 1272.5,1416.8 1277.7,1416.3 1282.8,1426.2 1288.0,1435.5 1293.1,1433.7 1298.3,1420.5 1303.4,1405.6 1308.6,1399.3 1313.9,1410.1 1319.0,1425.9 1324.2,1431.8 1329.4,1423.2 1334.5,1410.0 1339.7,1406.4 1344.8,1416.8 1350.1,1429.9 1355.1,1434.4 1360.4,1429.0 1365.6,1422.8 1370.7,1418.1 1375.9,1416.3 1381.0,1421.4 1386.2,1427.3 1391.3,1425.0 1396.5,1417.7 1401.6,1417.2 1406.8,1424.1 1412.1,1428.2 1417.1,1427.1 1422.4,1420.5 1427.5,1413.8 1432.7,1411.2 1437.9,1414.1 1443.1,1418.6 1447.8,1420.5 1453.2,1416.8 1458.4,1413.6 1463.5,1416.5 1468.8,1420.8 1473.8,1422.6 1479.1,1420.8 1484.3,1417.7 1489.4,1417.2 1494.6,1420.1 1499.7,1422.6 1504.9,1423.4 1510.2,1421.9 1515.2,1419.2 1520.5,1417.9 1525.5,1419.7 1530.8,1422.3 1536.0,1423.5 1541.1,1422.6 1546.3,1417.7 1551.4,1415.0 1556.6,1419.0 1561.7,1423.0 1566.9,1424.1 1572.2,1423.7 1577.3,1420.8 1582.5,1417.4 1587.6,1417.0 1592.8,1419.0 1598.0,1420.6 1603.1,1419.6 1608.4,1415.9 1613.4,1414.7 1618.7,1418.1 1623.9,1421.2 1629.0,1420.1 1634.2,1418.1 1639.3,1417.2 1644.5,1417.7 1649.8,1420.1 1654.8,1422.3 1660.1,1420.5 1665.1,1416.7 1670.4,1416.3 1675.6,1419.2 1680.7,1421.2 1685.9,1422.6 1691.0,1424.4 1696.2,1424.1 1701.5,1421.4 1706.5,1419.9 1711.8,1420.8 1717.0,1423.2 1722.1,1424.4 1727.3,1420.5 1732.4,1415.9 1737.6,1415.6 1742.9,1419.0 1748.0,1421.9 1753.2,1423.2 1758.3,1422.3 1763.5,1417.7 1768.6,1413.8 1773.8,1417.7 1779.1,1421.5 1784.1,1419.6 1789.4,1417.4 1794.4,1418.6 1799.7,1420.5 1804.9,1421.4 1810.0,1420.5 1815.2,1419.2 1820.3,1419.2 1825.5,1418.6 1830.8,1417.4 1835.8,1420.1 1840.9,1422.3 1846.1,1420.5 1851.2,1416.3 1856.1,1414.5 1861.5,1418.1 1866.5,1423.2 1871.6,1425.5 1876.9,1422.8 1881.9,1418.3 1887.2,1417.7 1892.2,1420.8 1897.5,1422.3 1902.5,1422.6 1907.8,1423.7 1913.0,1424.1 1918.1,1422.3 1923.3,1419.6 1928.4,1418.6 1933.6,1420.5 1938.9,1422.4 1943.9,1421.9 1949.2,1419.6 1954.2,1416.8 1959.5,1415.9 1964.6,1417.6 1969.8,1419.0 1974.9,1419.6 1980.1,1420.3 1985.2,1418.6 1990.4,1414.5 1995.5,1414.1 2000.7,1420.5 2005.8,1424.1 2011.0,1420.5 2016.1,1415.9 2021.3,1417.2 2026.4,1423.2 2031.6,1424.8 2036.9,1421.5 2042.0,1419.7 2047.2,1420.5 2052.3,1421.7 2057.5,1423.0 2062.6,1421.5 2067.8,1416.8 2073.1,1416.8 2078.1,1422.8 2083.4,1425.9 2088.4,1421.9 2093.7,1417.0 2112.5,1416.8"/>
<polyline stroke="#0000ff" points="300.0,1419.2 303.6,1419.2 315.4,1419.2 320.8,1422.1 326.2,1422.7 331.6,1420.9 336.2,1420.2 342.5,1419.8 347.0,1418.5 351.9,1416.2 357.0,1416.0 362.4,1419.6 367.3,1420.9 372.3,1418.2 377.8,1416.2 382.8,1416.5 388.1,1418.5 393.1,1420.7 398.6,1420.5 403.4,1420.0 408.5,1421.8 413.6,1422.1 418.4,1417.6 423.9,1415.6 429.3,1419.6 434.7,1423.9 439.6,1424.1 444.7,1419.6 449.7,1414.0 455.2,1413.1 460.4,1418.5 465.5,1423.9 470.5,1425.4 475.8,1421.4 480.8,1416.7 485.9,1414.9 491.1,1416.7 496.2,1420.0 501.6,1421.8 506.7,1417.6 511.6,1411.5 517.0,1412.7 522.1,1419.1 527.3,1424.9 532.7,1427.0 537.8,1424.5 543.2,1420.0 548.1,1417.8 553.2,1419.1 558.6,1419.6 563.7,1418.5 568.9,1417.3 574.0,1417.8 579.0,1420.5 584.3,1423.6 589.3,1424.7 594.8,1421.2 599.8,1416.4 604.7,1412.7 610.1,1414.9 615.2,1420.9 620.4,1423.6 625.5,1419.6 630.9,1413.6 636.0,1411.8 641.2,1418.2 646.3,1425.4 651.4,1424.3 656.2,1414.0 661.7,1408.2 667.1,1422.7 671.6,1451.6 677.0,1467.9 682.2,1470.1 687.2,1457.9 689.9,1440.8 692.7,1411.8 695.2,1375.7 697.7,1344.9 702.8,1317.8 708.0,1352.2 710.7,1381.1 715.6,1431.7 718.3,1463.4 723.4,1490.0 728.5,1469.7 731.2,1444.4 733.9,1417.3 739.0,1393.4 744.2,1413.6 749.3,1441.7 754.5,1446.2 759.6,1428.1 764.8,1391.9 769.9,1361.2 775.1,1363.0 780.4,1395.6 785.4,1435.3 790.7,1460.3 795.7,1457.9 801.0,1446.6 806.0,1443.7 811.3,1434.4 816.3,1405.5 821.6,1388.3 826.8,1392.8 831.9,1405.0 837.1,1405.9 842.2,1394.1 847.5,1389.2 852.7,1414.5 857.8,1451.6 863.0,1458.8 868.1,1437.1 873.1,1420.5 878.4,1420.9 883.6,1424.1 888.9,1423.6 893.9,1421.8 899.2,1421.2 904.2,1415.1 909.5,1392.8 914.7,1377.5 919.8,1402.8 925.0,1445.6 930.1,1451.6 935.3,1425.4 940.4,1408.2 945.6,1416.4 950.9,1435.0 955.9,1443.5 961.2,1431.7 966.3,1410.0 971.5,1401.3 976.6,1420.9 981.8,1444.9 987.1,1445.8 992.1,1423.6 997.4,1391.9 1002.4,1372.4 1007.7,1384.7 1012.7,1423.6 1018.0,1454.3 1023.2,1444.4 1028.3,1410.0 1033.5,1385.1 1038.6,1397.4 1043.8,1439.0 1048.9,1468.4 1054.1,1455.2 1059.4,1416.4 1064.4,1390.7 1069.7,1395.6 1074.8,1420.9 1079.9,1447.6 1085.0,1444.4 1089.8,1404.6 1095.6,1373.9 1100.9,1385.1 1106.1,1424.9 1111.2,1444.4 1116.4,1429.9 1121.5,1403.7 1126.7,1394.7 1132.0,1411.8 1137.0,1440.8 1142.3,1456.1 1147.3,1441.7 1152.6,1416.4 1157.6,1413.6 1162.9,1439.0 1168.0,1468.8 1173.2,1471.1 1178.4,1439.0 1183.5,1401.0 1188.8,1380.7 1193.8,1392.3 1199.1,1418.7 1204.1,1428.5 1209.4,1409.1 1214.4,1378.4 1219.7,1365.4 1224.9,1384.7 1230.0,1419.1 1235.2,1435.3 1240.3,1429.0 1245.5,1415.1 1250.8,1415.1 1255.8,1428.1 1261.1,1441.7 1266.1,1445.6 1271.4,1435.0 1276.5,1419.1 1281.7,1412.7 1286.9,1420.0 1292.0,1427.2 1297.3,1420.5 1302.3,1402.8 1307.6,1392.5 1312.8,1403.7 1317.9,1424.9 1323.1,1434.8 1328.2,1428.1 1333.4,1416.9 1338.5,1413.1 1343.7,1425.4 1348.8,1440.2 1354.0,1441.3 1359.3,1429.9 1364.3,1418.5 1369.6,1411.8 1374.6,1416.0 1379.9,1425.9 1385.1,1427.7 1390.2,1415.4 1395.4,1397.9 1400.5,1393.7 1405.8,1405.5 1410.8,1425.4 1416.1,1439.5 1421.3,1438.2 1426.4,1427.7 1431.6,1420.5 1436.7,1422.3 1441.9,1426.3 1447.0,1421.8 1452.2,1409.1 1457.3,1397.4 1462.2,1392.5 1467.5,1399.7 1472.5,1412.2 1477.8,1418.7 1482.9,1414.9 1488.1,1409.1 1493.3,1412.4 1498.4,1429.0 1503.7,1445.3 1508.9,1444.9 1514.0,1426.3 1519.2,1413.6 1524.4,1416.4 1529.5,1426.3 1534.8,1433.2 1539.8,1430.5 1545.1,1419.6 1550.3,1412.4 1555.4,1414.9 1560.6,1422.1 1565.9,1426.8 1570.9,1426.3 1576.2,1423.2 1581.2,1420.5 1586.5,1420.3 1591.5,1423.9 1596.8,1427.4 1601.8,1423.2 1607.1,1413.3 1612.2,1406.8 1617.4,1410.4 1622.6,1417.8 1627.7,1418.3 1632.9,1411.8 1638.0,1407.7 1643.3,1410.9 1648.3,1420.9 1653.6,1431.2 1658.8,1433.0 1663.9,1425.9 1669.1,1420.2 1674.2,1420.2 1679.4,1422.7 1684.7,1424.9 1689.7,1425.8 1695.0,1422.3 1700.0,1414.2 1705.3,1411.5 1710.3,1416.4 1715.6,1420.3 1720.7,1418.2 1725.9,1413.3 1731.1,1410.6 1736.2,1414.5 1741.4,1421.4 1746.5,1425.6 1751.8,1425.9 1756.8,1421.4 1762.1,1412.7 1767.3,1409.5 1772.4,1415.4 1777.6,1423.2 1782.7,1427.6 1787.9,1425.4 1793.0,1420.0 1798.2,1419.1 1803.5,1422.3 1808.5,1425.0 1813.8,1423.0 1818.8,1415.4 1824.1,1407.9 1829.3,1408.2 1834.4,1415.4 1839.6,1419.8 1844.7,1419.1 1849.9,1416.7 1855.2,1419.1 1860.2,1425.4 1865.5,1429.2 1870.5,1426.3 1875.8,1421.8 1880.8,1419.6 1886.1,1420.9 1891.1,1422.7 1896.4,1424.3 1901.6,1425.4 1906.7,1423.8 1911.9,1419.4 1917.0,1418.0 1922.2,1420.5 1927.3,1421.6 1932.5,1418.7 1937.6,1416.7 1942.9,1416.4 1947.9,1415.4 1953.2,1416.9 1958.4,1422.7 1963.5,1426.3 1968.7,1423.8 1973.8,1417.6 1979.0,1411.5 1984.1,1412.2 1989.3,1418.7 1994.4,1420.9 1999.6,1418.7 2004.7,1419.2 2009.9,1422.3 2015.0,1423.8 2020.3,1422.1 2025.5,1420.9 2030.6,1419.8 2035.8,1417.3 2040.9,1415.8 2046.1,1416.7 2051.4,1418.5 2056.4,1419.2 2061.7,1419.1 2066.7,1420.2 2072.0,1421.6 2077.2,1421.2 2082.3,1419.1 2087.5,1416.7 2092.6,1416.0 2097.8,1418.7 2102.9,1420.2 2108.1,1419.8 2112.5,1419.2"/>
</g>
<g font-size="41.67" fill="#000">
<text x="325.1" y="282.0">607900214 | 1.00</text>
<text x="325.1" y="466.3">1101398 | 0.78</text>
<text x="325.1" y="650.7">1133801 | 0.75</text>
<text x="325.1" y="835.0">1138335 | 0.73</text>
<text x="325.1" y="1019.4">1135951 | 0.72</text>
<text x="325.1" y="1203.7">1061003 | 0.72</text>
</g>
<g stroke-width="8.3" fill="none">
<line x1="665.6" x2="665.6" y1="267.3" y2="359.9" stroke="#ff0000"/>
<line x1="1089.3" x2="1089.3" y1="267.3" y2="359.9" stroke="#00e600"/>
<line x1="670.1" x2="670.1" y1="451.6" y2="544.3" stroke="#ff0000"/>
<line x1="954.2" x2="954.2" y1="451.6" y2="544.3" stroke="#00e600"/>
<line x1="681.1" x2="681.1" y1="636.0" y2="728.6" stroke="#ff0000"/>
<line x1="943.6" x2="943.6" y1="636.0" y2="728.6" stroke="#00e600"/>
<line x1="670.8" x2="670.8" y1="820.3" y2="913.0" stroke="#ff0000"/>
<line x1="900.7" x2="900.7" y1="820.3" y2="913.0" stroke="#00e600"/>
<line x1="681.1" x2="681.1" y1="1004.7" y2="1097.3" stroke="#ff0000"/>
<line x1="921.0" x2="921.0" y1="1004.7" y2="1097.3" stroke="#00e600"/>
<line x1="678.0" x2="678.0" y1="1189.0" y2="1281.7" stroke="#ff0000"/>
<line x1="943.0" x2="943.0" y1="1189.0" y2="1281.7" stroke="#00e600"/>
</g>
<g font-size="42.3" fill="#262626" text-anchor="middle">
<text x="457.9" y="1617">-0.2</text>
<text x="666.0" y="1617">0</text>
<text x="872.7" y="1617">0.2</text>
<text x="1079.3" y="1617">0.4</text>
<text x="1285.9" y="1617">0.6</text>
<text x="1492.6" y="1617">0.8</text>
<text x="1699.2" y="1617">1</text>
<text x="1905.9" y="1617">1.2</text>
<text x="2112.5" y="1617">1.4</text>
</g>
<text x="1208.5" y="96" font-size="67.2" fill="#000" text-anchor="middle">607900214.OO.AXEC1.EHZ</text>
</svg></body></html>
